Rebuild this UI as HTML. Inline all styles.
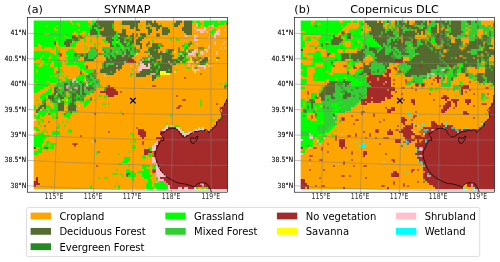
<!DOCTYPE html>
<html><head><meta charset="utf-8"><title>Land cover maps</title>
<style>
html,body{margin:0;padding:0;background:#fff;}
svg{display:block;}
text{font-family:"DejaVu Sans","Liberation Sans",sans-serif;fill:#000;}
.tk text{font-size:6.25px;fill:#000;stroke:#000;stroke-width:0.1px;}
.ti text{font-size:11.2px;}
.lg text{font-size:10px;}
</style></head><body>
<svg width="500" height="262" viewBox="0 0 500 262">
<defs>
<filter id="bl" x="-5%" y="-5%" width="110%" height="110%"><feGaussianBlur stdDeviation="0.42"/></filter>
<clipPath id="clipa"><rect x="33.7" y="20.6" width="193.8" height="168.65"/></clipPath>
<clipPath id="clipb"><rect x="300.7" y="20.6" width="193.8" height="168.65"/></clipPath>
<clipPath id="framea"><rect x="27.5" y="17.5" width="200" height="174.7"/></clipPath>
<clipPath id="frameb"><rect x="294.5" y="17.5" width="200" height="174.7"/></clipPath>
</defs>
<rect width="500" height="262" fill="#fff"/>
<g class="tk">
<text transform="translate(26.3,35.30) scale(1,1.13)" text-anchor="end">41°N</text>
<text transform="translate(26.3,60.73) scale(1,1.13)" text-anchor="end">40.5°N</text>
<text transform="translate(26.3,86.16) scale(1,1.13)" text-anchor="end">40°N</text>
<text transform="translate(26.3,111.59) scale(1,1.13)" text-anchor="end">39.5°N</text>
<text transform="translate(26.3,137.02) scale(1,1.13)" text-anchor="end">39°N</text>
<text transform="translate(26.3,162.45) scale(1,1.13)" text-anchor="end">38.5°N</text>
<text transform="translate(26.3,187.88) scale(1,1.13)" text-anchor="end">38°N</text>
<text style="font-size:6.15px;fill:#2a2a2a;stroke:none" transform="translate(53.95,198.7) scale(1,1.32)" text-anchor="middle">115°E</text>
<text style="font-size:6.15px;fill:#2a2a2a;stroke:none" transform="translate(93.15,198.7) scale(1,1.32)" text-anchor="middle">116°E</text>
<text style="font-size:6.15px;fill:#2a2a2a;stroke:none" transform="translate(132.15,198.7) scale(1,1.32)" text-anchor="middle">117°E</text>
<text style="font-size:6.15px;fill:#2a2a2a;stroke:none" transform="translate(171.15,198.7) scale(1,1.32)" text-anchor="middle">118°E</text>
<text style="font-size:6.15px;fill:#2a2a2a;stroke:none" transform="translate(210.75,198.7) scale(1,1.32)" text-anchor="middle">119°E</text>
<text transform="translate(293.3,35.30) scale(1,1.13)" text-anchor="end">41°N</text>
<text transform="translate(293.3,60.73) scale(1,1.13)" text-anchor="end">40.5°N</text>
<text transform="translate(293.3,86.16) scale(1,1.13)" text-anchor="end">40°N</text>
<text transform="translate(293.3,111.59) scale(1,1.13)" text-anchor="end">39.5°N</text>
<text transform="translate(293.3,137.02) scale(1,1.13)" text-anchor="end">39°N</text>
<text transform="translate(293.3,162.45) scale(1,1.13)" text-anchor="end">38.5°N</text>
<text transform="translate(293.3,187.88) scale(1,1.13)" text-anchor="end">38°N</text>
<text style="font-size:6.15px;fill:#2a2a2a;stroke:none" transform="translate(320.95,198.7) scale(1,1.32)" text-anchor="middle">115°E</text>
<text style="font-size:6.15px;fill:#2a2a2a;stroke:none" transform="translate(360.15,198.7) scale(1,1.32)" text-anchor="middle">116°E</text>
<text style="font-size:6.15px;fill:#2a2a2a;stroke:none" transform="translate(399.15,198.7) scale(1,1.32)" text-anchor="middle">117°E</text>
<text style="font-size:6.15px;fill:#2a2a2a;stroke:none" transform="translate(438.15,198.7) scale(1,1.32)" text-anchor="middle">118°E</text>
<text style="font-size:6.15px;fill:#2a2a2a;stroke:none" transform="translate(477.75,198.7) scale(1,1.32)" text-anchor="middle">119°E</text>
</g>
<rect x="27.5" y="17.5" width="200" height="174.7" fill="#fff"/>
<g clip-path="url(#clipa)"><g opacity="0.999">
<rect x="30" y="17" width="202" height="176" fill="#ffa500"/>
<g filter="url(#bl)">
<path fill="#a52a2a" d="M128 59h6v2h-6zM128 61h8v2h-8zM108 85h2v2h-2zM104 87h10v2h-10zM104 89h12v2h-12zM100 91h18v2h-18zM106 93h12v2h-12zM108 95h6v2h-6zM226 99h2v2h-2zM226 101h2v2h-2zM224 103h4v2h-4zM224 105h4v2h-4zM220 107h8v2h-8zM222 109h6v2h-6zM222 111h6v2h-6zM222 113h6v2h-6zM222 115h6v2h-6zM220 117h8v2h-8zM218 119h10v2h-10zM216 121h12v2h-12zM216 123h12v2h-12zM214 125h14v2h-14zM168 127h8v2h-8zM212 127h16v2h-16zM138 129h6v2h-6zM166 129h12v2h-12zM204 129h2v2h-2zM210 129h18v2h-18zM138 131h8v2h-8zM160 131h20v2h-20zM194 131h34v2h-34zM138 133h8v2h-8zM160 133h22v2h-22zM190 133h38v2h-38zM140 135h6v2h-6zM162 135h22v2h-22zM186 135h42v2h-42zM142 137h2v2h-2zM156 137h72v2h-72zM158 139h70v2h-70zM158 141h70v2h-70zM158 143h70v2h-70zM156 145h72v2h-72zM31 147h5v2h-5zM156 147h72v2h-72zM144 149h6v2h-6zM156 149h72v2h-72zM144 151h84v2h-84zM144 153h4v2h-4zM152 153h76v2h-76zM152 155h76v2h-76zM156 157h72v2h-72zM156 159h72v2h-72zM156 161h72v2h-72zM158 163h70v2h-70zM158 165h70v2h-70zM160 167h68v2h-68zM160 169h68v2h-68zM162 171h66v2h-66zM164 173h64v2h-64zM166 175h62v2h-62zM36 177h2v2h-2zM160 177h68v2h-68zM36 179h2v2h-2zM164 179h64v2h-64zM31 181h7v2h-7zM164 181h64v2h-64zM31 183h9v2h-9zM166 183h62v2h-62zM31 185h5v2h-5zM170 185h58v2h-58zM170 187h8v5h-8zM182 187h2v5h-2zM188 187h6v5h-6zM208 187h20v5h-20z"/>
<path fill="#556b2f" d="M96 18h18v5h-18zM122 18h18v5h-18zM146 18h6v5h-6zM154 18h2v5h-2zM176 18h6v5h-6zM184 18h8v5h-8zM94 23h20v2h-20zM122 23h16v2h-16zM146 23h12v2h-12zM174 23h6v2h-6zM184 23h8v2h-8zM92 25h22v2h-22zM130 25h8v2h-8zM148 25h14v2h-14zM174 25h4v2h-4zM184 25h8v2h-8zM92 27h2v2h-2zM98 27h16v2h-16zM130 27h4v2h-4zM136 27h2v2h-2zM146 27h4v2h-4zM156 27h4v2h-4zM162 27h6v2h-6zM182 27h10v2h-10zM90 29h6v2h-6zM100 29h14v2h-14zM122 29h4v2h-4zM136 29h4v2h-4zM148 29h4v2h-4zM156 29h2v2h-2zM162 29h8v2h-8zM182 29h10v2h-10zM90 31h8v2h-8zM100 31h16v2h-16zM122 31h4v2h-4zM148 31h4v2h-4zM162 31h8v2h-8zM184 31h8v2h-8zM90 33h8v2h-8zM100 33h16v2h-16zM118 33h8v2h-8zM132 33h2v2h-2zM140 33h6v2h-6zM148 33h2v2h-2zM162 33h6v2h-6zM186 33h6v2h-6zM72 35h4v2h-4zM102 35h12v2h-12zM118 35h10v2h-10zM130 35h4v2h-4zM140 35h6v2h-6zM72 37h8v2h-8zM106 37h6v2h-6zM118 37h16v2h-16zM138 37h6v2h-6zM66 39h14v2h-14zM106 39h8v2h-8zM120 39h6v2h-6zM130 39h4v2h-4zM136 39h6v2h-6zM64 41h8v2h-8zM108 41h4v2h-4zM120 41h6v2h-6zM128 41h6v2h-6zM136 41h4v2h-4zM64 43h8v2h-8zM110 43h2v2h-2zM122 43h20v2h-20zM152 43h8v2h-8zM66 45h4v2h-4zM110 45h4v2h-4zM124 45h4v2h-4zM130 45h4v2h-4zM140 45h2v2h-2zM152 45h10v2h-10zM110 47h4v2h-4zM140 47h2v2h-2zM148 47h12v2h-12zM126 49h2v2h-2zM136 49h2v2h-2zM148 49h10v2h-10zM166 49h8v2h-8zM186 49h2v2h-2zM190 49h2v2h-2zM198 49h6v2h-6zM126 51h4v2h-4zM136 51h2v2h-2zM148 51h10v2h-10zM160 51h12v2h-12zM180 51h2v2h-2zM184 51h4v2h-4zM78 53h2v2h-2zM84 53h4v2h-4zM124 53h6v2h-6zM150 53h22v2h-22zM182 53h2v2h-2zM76 55h4v2h-4zM84 55h4v2h-4zM110 55h2v2h-2zM116 55h18v2h-18zM150 55h24v2h-24zM180 55h4v2h-4zM186 55h2v2h-2zM84 57h4v2h-4zM106 57h2v2h-2zM110 57h4v2h-4zM116 57h16v2h-16zM146 57h26v2h-26zM178 57h8v2h-8zM194 57h4v2h-4zM202 57h6v2h-6zM84 59h10v2h-10zM106 59h22v2h-22zM142 59h44v2h-44zM192 59h2v2h-2zM198 59h10v2h-10zM104 61h24v2h-24zM142 61h38v2h-38zM198 61h10v2h-10zM102 63h4v2h-4zM114 63h10v2h-10zM144 63h4v2h-4zM150 63h4v2h-4zM156 63h20v2h-20zM198 63h8v2h-8zM102 65h4v2h-4zM108 65h14v2h-14zM146 65h2v2h-2zM150 65h22v2h-22zM102 67h20v2h-20zM150 67h22v2h-22zM100 69h16v2h-16zM142 69h30v2h-30zM92 71h2v2h-2zM100 71h16v2h-16zM140 71h20v2h-20zM166 71h6v2h-6zM92 73h2v2h-2zM106 73h8v2h-8zM136 73h24v2h-24zM94 75h2v2h-2zM136 75h10v2h-10zM152 75h8v2h-8zM86 77h2v2h-2zM152 77h4v2h-4zM86 79h4v2h-4zM152 79h2v2h-2zM74 81h2v2h-2zM88 81h2v2h-2zM64 83h4v2h-4zM72 83h4v2h-4zM82 83h4v2h-4zM64 85h6v2h-6zM72 85h2v2h-2zM76 85h4v2h-4zM82 85h4v2h-4zM88 85h4v2h-4zM54 87h4v2h-4zM64 87h4v2h-4zM70 87h2v2h-2zM74 87h6v2h-6zM82 87h12v2h-12zM54 89h4v2h-4zM64 89h8v2h-8zM76 89h4v2h-4zM82 89h2v2h-2zM88 89h6v2h-6zM54 91h4v2h-4zM64 91h2v2h-2zM68 91h2v2h-2zM72 91h8v2h-8zM82 91h2v2h-2zM92 91h2v2h-2zM52 93h8v2h-8zM64 93h2v2h-2zM70 93h10v2h-10zM82 93h4v2h-4zM48 95h16v2h-16zM70 95h8v2h-8zM82 95h4v2h-4zM48 97h8v2h-8zM58 97h6v2h-6zM70 97h8v2h-8zM80 97h2v2h-2zM50 99h8v2h-8zM60 99h2v2h-2zM70 99h8v2h-8zM80 99h2v2h-2zM44 101h2v2h-2zM52 101h2v2h-2zM56 101h2v2h-2zM60 101h4v2h-4zM70 101h6v2h-6zM42 103h4v2h-4zM56 103h8v2h-8zM68 103h8v2h-8zM40 105h6v2h-6zM58 105h6v2h-6zM68 105h8v2h-8zM38 107h8v2h-8zM58 107h6v2h-6zM68 107h10v2h-10zM36 109h4v2h-4zM58 109h6v2h-6zM68 109h10v2h-10zM36 111h2v2h-2zM70 111h2v2h-2z"/>
<path fill="#00ff00" d="M31 18h39v5h-39zM72 18h16v5h-16zM92 18h4v5h-4zM192 18h2v5h-2zM196 18h4v5h-4zM204 18h14v5h-14zM220 18h8v5h-8zM31 23h59v2h-59zM92 23h2v2h-2zM198 23h4v2h-4zM204 23h20v2h-20zM31 25h61v2h-61zM198 25h2v2h-2zM204 25h4v2h-4zM214 25h4v2h-4zM31 27h61v2h-61zM94 27h4v2h-4zM31 29h59v2h-59zM96 29h4v2h-4zM212 29h4v2h-4zM31 31h43v2h-43zM76 31h6v2h-6zM86 31h4v2h-4zM98 31h2v2h-2zM116 31h2v2h-2zM210 31h6v2h-6zM31 33h41v2h-41zM78 33h2v2h-2zM86 33h2v2h-2zM98 33h2v2h-2zM116 33h2v2h-2zM212 33h2v2h-2zM31 35h41v2h-41zM114 35h4v2h-4zM31 37h41v2h-41zM112 37h6v2h-6zM31 39h35v2h-35zM114 39h6v2h-6zM126 39h4v2h-4zM31 41h25v2h-25zM58 41h6v2h-6zM72 41h6v2h-6zM112 41h8v2h-8zM126 41h2v2h-2zM31 43h7v2h-7zM40 43h16v2h-16zM58 43h6v2h-6zM72 43h4v2h-4zM112 43h10v2h-10zM184 43h4v2h-4zM31 45h7v2h-7zM42 45h14v2h-14zM60 45h6v2h-6zM70 45h6v2h-6zM114 45h10v2h-10zM128 45h2v2h-2zM184 45h4v2h-4zM42 47h2v2h-2zM52 47h2v2h-2zM56 47h2v2h-2zM184 47h4v2h-4zM56 49h2v2h-2zM68 49h6v2h-6zM31 51h19v2h-19zM56 51h4v2h-4zM66 51h10v2h-10zM182 51h2v2h-2zM31 53h23v2h-23zM56 53h2v2h-2zM66 53h12v2h-12zM180 53h2v2h-2zM184 53h4v2h-4zM31 55h29v2h-29zM68 55h8v2h-8zM184 55h2v2h-2zM31 57h9v2h-9zM42 57h16v2h-16zM66 57h8v2h-8zM186 57h2v2h-2zM31 59h5v2h-5zM42 59h18v2h-18zM68 59h6v2h-6zM186 59h2v2h-2zM44 61h8v2h-8zM54 61h8v2h-8zM68 61h18v2h-18zM182 61h4v2h-4zM31 63h9v2h-9zM44 63h6v2h-6zM54 63h8v2h-8zM66 63h18v2h-18zM154 63h2v2h-2zM31 65h7v2h-7zM42 65h8v2h-8zM54 65h8v2h-8zM78 65h8v2h-8zM31 67h23v2h-23zM58 67h2v2h-2zM80 67h6v2h-6zM31 69h23v2h-23zM58 69h4v2h-4zM80 69h2v2h-2zM84 69h10v2h-10zM31 71h23v2h-23zM60 71h2v2h-2zM86 71h6v2h-6zM31 73h29v2h-29zM82 73h2v2h-2zM88 73h2v2h-2zM31 75h27v2h-27zM78 75h8v2h-8zM31 77h27v2h-27zM76 77h10v2h-10zM31 79h31v2h-31zM80 79h4v2h-4zM31 81h29v2h-29zM82 81h2v2h-2zM36 83h14v2h-14zM31 85h17v2h-17zM31 87h13v2h-13zM50 87h2v2h-2zM31 89h9v2h-9zM48 89h4v2h-4zM31 91h7v2h-7zM46 91h6v2h-6zM42 93h10v2h-10zM40 95h8v2h-8zM64 95h2v2h-2zM78 95h2v2h-2zM40 97h8v2h-8zM56 97h2v2h-2zM68 97h2v2h-2zM78 97h2v2h-2zM82 97h2v2h-2zM42 99h2v2h-2zM58 99h2v2h-2zM62 99h8v2h-8zM78 99h2v2h-2zM82 99h2v2h-2zM86 99h4v2h-4zM58 101h2v2h-2zM68 101h2v2h-2zM84 101h6v2h-6zM54 103h2v2h-2zM84 103h4v2h-4zM31 105h5v2h-5zM46 105h4v2h-4zM54 105h4v2h-4zM84 105h2v2h-2zM31 107h5v2h-5zM46 107h6v2h-6zM54 107h4v2h-4zM40 109h18v2h-18zM38 111h20v2h-20zM68 111h2v2h-2zM36 113h10v2h-10zM50 113h8v2h-8zM64 113h8v2h-8zM31 115h9v2h-9zM42 115h2v2h-2zM54 115h4v2h-4zM64 115h6v2h-6zM36 117h4v2h-4zM68 117h2v2h-2zM31 127h7v2h-7zM36 129h4v2h-4zM42 131h2v2h-2zM52 131h8v2h-8zM38 133h6v2h-6zM52 133h8v2h-8zM31 135h19v2h-19zM31 137h15v2h-15zM31 139h13v2h-13zM31 141h13v2h-13zM46 141h4v2h-4zM31 143h11v2h-11zM46 143h10v2h-10zM31 145h11v2h-11zM44 145h10v2h-10zM40 147h14v2h-14zM38 149h4v2h-4zM31 151h11v2h-11zM31 153h7v2h-7zM124 157h6v2h-6zM124 159h6v2h-6zM122 161h6v2h-6zM142 165h8v2h-8zM142 167h4v2h-4zM126 169h4v2h-4zM144 169h6v2h-6zM126 171h8v2h-8zM138 171h12v2h-12zM126 173h10v2h-10zM142 173h8v2h-8zM126 175h10v2h-10zM142 175h10v2h-10zM132 177h2v2h-2zM144 177h6v2h-6zM132 179h2v2h-2zM148 179h4v2h-4zM148 181h4v2h-4zM156 181h8v2h-8zM146 183h6v2h-6zM154 183h12v2h-12zM90 185h2v2h-2zM118 185h2v2h-2zM146 185h6v2h-6zM154 185h14v2h-14zM90 187h2v5h-2zM118 187h2v5h-2zM146 187h8v5h-8zM156 187h12v5h-12zM196 187h2v5h-2zM202 187h2v5h-2zM206 187h2v5h-2z"/>
<path fill="#32cd32" d="M92 47h2v2h-2zM102 47h8v2h-8zM114 47h22v2h-22zM90 49h6v2h-6zM104 49h22v2h-22zM128 49h8v2h-8zM88 51h10v2h-10zM104 51h22v2h-22zM130 51h6v2h-6zM88 53h10v2h-10zM102 53h22v2h-22zM130 53h6v2h-6zM88 55h10v2h-10zM104 55h6v2h-6zM112 55h4v2h-4zM74 57h6v2h-6zM88 57h8v2h-8zM108 57h2v2h-2zM114 57h2v2h-2zM74 59h4v2h-4zM106 63h8v2h-8zM106 65h2v2h-2zM90 73h2v2h-2zM86 75h8v2h-8zM74 77h2v2h-2zM88 77h8v2h-8zM66 79h14v2h-14zM90 79h10v2h-10zM60 81h14v2h-14zM76 81h6v2h-6zM84 81h4v2h-4zM90 81h10v2h-10zM56 83h8v2h-8zM68 83h4v2h-4zM76 83h6v2h-6zM86 83h14v2h-14zM56 85h8v2h-8zM70 85h2v2h-2zM74 85h2v2h-2zM80 85h2v2h-2zM86 85h2v2h-2zM92 85h4v2h-4zM98 85h2v2h-2zM58 87h6v2h-6zM72 87h2v2h-2zM80 87h2v2h-2zM94 87h2v2h-2zM58 89h6v2h-6zM72 89h4v2h-4zM80 89h2v2h-2zM84 89h4v2h-4zM58 91h6v2h-6zM66 91h2v2h-2zM70 91h2v2h-2zM80 91h2v2h-2zM84 91h8v2h-8zM60 93h4v2h-4zM66 93h4v2h-4zM80 93h2v2h-2zM86 93h4v2h-4zM66 95h2v2h-2zM80 95h2v2h-2zM44 99h2v2h-2zM54 101h2v2h-2z"/>
<path fill="#ffc0cb" d="M204 27h2v2h-2zM196 29h10v2h-10zM218 29h2v2h-2zM200 31h4v2h-4zM216 31h4v2h-4zM214 33h6v2h-6zM194 35h4v2h-4zM214 35h2v2h-2zM194 37h2v2h-2zM214 37h2v2h-2zM194 39h4v2h-4zM188 49h2v2h-2zM194 49h4v2h-4zM188 51h10v2h-10zM188 53h8v2h-8zM188 55h6v2h-6zM190 57h2v2h-2zM140 61h2v2h-2zM140 63h4v2h-4zM148 63h2v2h-2zM140 65h6v2h-6zM148 65h2v2h-2zM198 65h8v2h-8zM138 67h12v2h-12zM194 67h4v2h-4zM204 67h2v2h-2zM138 69h4v2h-4zM68 87h2v2h-2zM31 119h5v2h-5zM166 125h4v2h-4zM164 127h4v2h-4zM176 127h4v2h-4zM198 127h6v2h-6zM162 129h4v2h-4zM178 129h4v2h-4zM194 129h10v2h-10zM31 131h5v2h-5zM180 131h6v2h-6zM188 131h6v2h-6zM182 133h8v2h-8zM184 135h2v2h-2zM156 141h2v2h-2zM154 143h4v2h-4zM152 145h4v2h-4zM152 147h4v2h-4zM152 149h4v2h-4zM152 157h4v2h-4zM152 159h4v2h-4zM152 161h4v2h-4zM156 163h2v2h-2zM156 165h2v2h-2zM156 167h4v2h-4zM156 169h4v2h-4zM156 171h6v2h-6zM156 173h8v2h-8zM156 175h10v2h-10zM158 177h2v2h-2zM158 179h6v2h-6zM168 185h2v2h-2zM168 187h2v5h-2zM178 187h4v5h-4zM184 187h4v5h-4zM194 187h2v5h-2z"/>
<path fill="#ffff00" d="M160 71h6v2h-6zM160 73h10v2h-10z"/>
<path fill="#ffa500" d="M72.2 23.2h1.6v1.6h-1.6zM76.3 23.3h1.7v1.4h-1.7zM78 23.3h1.7v1.7h-1.7zM78.3 25h1.4v1.7h-1.4zM148.3 23.3h1.4v1.7h-1.4zM148.3 25h1.7v1.7h-1.7zM150 25.3h1.7v1.4h-1.7zM212.2 23.2h1.6v1.6h-1.6zM46.2 25.2h1.6v1.6h-1.6zM56.2 25.2h1.6v1.6h-1.6zM88.2 25.2h1.6v1.6h-1.6zM54.3 27.3h1.4v1.7h-1.4zM54.3 29h1.7v1.7h-1.7zM56 29.3h1.7v1.4h-1.7zM102.3 27.3h1.4v1.7h-1.4zM102 29h1.7v1.7h-1.7zM100.3 29.3h1.7v1.4h-1.7zM78.2 29.2h1.6v1.6h-1.6zM214.2 31.2h1.6v1.6h-1.6zM44.3 33.3h1.7v1.4h-1.7zM46 33.3h2v1.4h-2zM48 33.3h1.7v1.4h-1.7zM64.2 35.2h1.6v1.6h-1.6zM54.2 37.2h1.6v1.6h-1.6zM66.2 37.2h1.6v1.6h-1.6zM126.27 37.27h1.73v1.46h-1.73zM128 37.27h1.73v1.46h-1.73zM72.2 41.2h1.6v1.6h-1.6zM70.2 43.2h1.6v1.6h-1.6zM110.27 47.27h1.73v1.46h-1.73zM112 47.27h1.73v1.46h-1.73zM122.2 47.2h1.6v1.6h-1.6zM198.3 49.3h1.7v1.4h-1.7zM200 49.3h2v1.4h-2zM202 49.3h1.7v1.4h-1.7zM116.2 51.2h1.6v1.6h-1.6zM196.2 51.2h1.6v1.6h-1.6zM194.2 53.2h1.6v1.6h-1.6zM42.2 55.2h1.6v1.6h-1.6zM50.3 55.3h1.4v1.7h-1.4zM50 57h1.7v1.7h-1.7zM48.3 57.3h1.7v1.7h-1.7zM48.3 59h1.4v1.7h-1.4zM188.3 55.3h1.7v1.4h-1.7zM190 55.3h2v1.7h-2zM190.3 57h1.4v1.7h-1.4zM192 55.3h1.7v1.4h-1.7zM160.3 57.3h1.4v1.7h-1.4zM160 59h1.7v1.7h-1.7zM158 59.3h2v1.4h-2zM156.3 59.3h1.7v1.4h-1.7zM186.2 57.2h1.6v1.6h-1.6zM194.27 57.27h1.73v1.46h-1.73zM196 57.27h1.73v1.46h-1.73zM192.2 59.2h1.6v1.6h-1.6zM198.3 59.3h1.4v1.7h-1.4zM198.3 61h1.4v2h-1.4zM198.3 63h1.4v1.7h-1.4zM74.2 61.2h1.6v1.6h-1.6zM46.2 63.2h1.6v1.6h-1.6zM154.2 63.2h1.6v1.6h-1.6zM36.27 69.27h1.46v1.73h-1.46zM36.27 71h1.46v1.73h-1.46zM60.2 71.2h1.6v1.6h-1.6zM92.2 71.2h1.6v1.6h-1.6zM58.2 73.2h1.6v1.6h-1.6zM50.2 75.2h1.6v1.6h-1.6zM54.27 75.27h1.73v1.46h-1.73zM56 75.27h1.73v1.46h-1.73zM84.2 77.2h1.6v1.6h-1.6zM36.2 79.2h1.6v1.6h-1.6zM46.27 81.27h1.73v1.46h-1.73zM48 81.27h1.73v1.46h-1.73zM56.2 81.2h1.6v1.6h-1.6zM60.2 81.2h1.6v1.6h-1.6zM84.27 81.27h1.73v1.46h-1.73zM86 81.27h1.73v1.46h-1.73zM58.27 87.27h1.73v1.46h-1.73zM60 87.27h1.73v1.46h-1.73zM66.3 91.3h1.4v1.7h-1.4zM66.3 93h1.7v2h-1.7zM66.3 95h1.4v1.7h-1.4zM68 93.3h1.7v1.4h-1.7zM50.2 93.2h1.6v1.6h-1.6zM46.27 95.27h1.46v1.73h-1.46zM46.27 97h1.46v1.73h-1.46zM62.27 99.27h1.73v1.46h-1.73zM64 99.27h1.73v1.46h-1.73zM56.2 103.2h1.6v1.6h-1.6zM46.3 109.3h1.7v1.4h-1.7zM48 109.3h1.7v1.7h-1.7zM48.3 111h1.4v1.7h-1.4zM52.3 113.3h1.7v1.4h-1.7zM54 113.3h1.7v1.7h-1.7zM54.3 115h1.4v1.7h-1.4zM36.2 115.2h1.6v1.6h-1.6zM48.3 143.3h1.4v1.7h-1.4zM48.3 145h1.7v1.7h-1.7zM50 145.3h1.7v1.4h-1.7zM152.3 151.3h1.4v1.7h-1.4zM152.3 153h1.4v2h-1.4zM152.3 155h1.4v1.7h-1.4zM158.2 181.2h1.6v1.6h-1.6z"/>
<path fill="#a52a2a" d="M226.2 23.2h1.6v1.6h-1.6zM54.27 41.27h1.46v1.73h-1.46zM54.27 43h1.46v1.73h-1.46zM58.3 53.3h1.7v1.4h-1.7zM60 53.3h1.7v1.7h-1.7zM60.3 55h1.4v1.7h-1.4zM86.27 65.27h1.46v1.73h-1.46zM86.27 67h1.46v1.73h-1.46zM118.2 69.2h1.6v1.6h-1.6zM80.27 71.27h1.46v1.73h-1.46zM80.27 73h1.46v1.73h-1.46zM184.2 77.2h1.6v1.6h-1.6zM152.27 85.27h1.73v1.46h-1.73zM154 85.27h1.73v1.46h-1.73zM120.2 91.2h1.6v1.6h-1.6zM176.2 95.2h1.6v1.6h-1.6zM182.27 99.27h1.73v1.46h-1.73zM184 99.27h1.73v1.46h-1.73zM216.2 103.2h1.6v1.6h-1.6zM178.3 105.3h1.7v1.7h-1.7zM178 107h1.7v1.7h-1.7zM180 105.3h1.7v1.4h-1.7zM176.3 107.3h1.7v1.4h-1.7zM94.2 113.2h1.6v1.6h-1.6zM122.2 113.2h1.6v1.6h-1.6zM136.2 127.2h1.6v1.6h-1.6zM108.2 131.2h1.6v1.6h-1.6zM80.2 135.2h1.6v1.6h-1.6zM142.27 141.27h1.46v1.73h-1.46zM142.27 143h1.46v1.73h-1.46zM72.3 143.3h1.7v1.4h-1.7zM74 143.3h2v1.7h-2zM74.3 145h1.4v1.7h-1.4zM76 143.3h1.7v1.4h-1.7zM44.27 147.27h1.73v1.46h-1.73zM46 147.27h1.73v1.46h-1.73zM98.2 151.2h1.6v1.6h-1.6zM96.2 165.2h1.6v1.6h-1.6zM152.3 169.3h1.7v1.7h-1.7zM152.3 171h1.7v1.7h-1.7zM154 169.3h1.7v1.7h-1.7zM154 171h1.7v1.7h-1.7zM126.3 173.3h1.7v1.7h-1.7zM126.3 175h1.4v1.7h-1.4zM128 173.3h1.7v1.4h-1.7z"/>
<path fill="#556b2f" d="M136.27 33.27h1.46v1.73h-1.46zM136.27 35h1.46v1.73h-1.46zM156.3 33.3h1.7v1.7h-1.7zM156.3 35h1.7v1.7h-1.7zM158 33.3h1.7v1.7h-1.7zM158 35h1.7v1.7h-1.7zM78.3 35.3h1.7v1.4h-1.7zM80 35.3h1.7v1.7h-1.7zM80.3 37h1.7v1.7h-1.7zM82 37.3h1.7v1.4h-1.7zM116.2 39.2h1.6v1.6h-1.6zM126.3 39.3h1.7v1.7h-1.7zM126.3 41h1.4v1.7h-1.4zM128 39.3h1.7v1.4h-1.7zM148.3 41.3h1.4v1.7h-1.4zM148 43h1.7v1.7h-1.7zM146.3 43.3h1.7v1.7h-1.7zM146.3 45h1.4v1.7h-1.4zM190.3 41.3h1.4v1.7h-1.4zM190 43h1.7v1.7h-1.7zM188.3 43.3h1.7v1.7h-1.7zM188.3 45h1.4v1.7h-1.4zM116.3 43.3h1.4v1.7h-1.4zM116.3 45h1.7v1.7h-1.7zM118 45.3h1.7v1.4h-1.7zM160.2 43.2h1.6v1.6h-1.6zM128.2 45.2h1.6v1.6h-1.6zM162.2 45.2h1.6v1.6h-1.6zM182.2 45.2h1.6v1.6h-1.6zM90.2 47.2h1.6v1.6h-1.6zM94.2 47.2h1.6v1.6h-1.6zM130.27 47.27h1.46v1.73h-1.46zM130.27 49h1.46v1.73h-1.46zM134.3 47.3h1.4v1.7h-1.4zM134.3 49h1.4v2h-1.4zM134.3 51h1.4v1.7h-1.4zM178.3 47.3h1.4v1.7h-1.4zM178.3 49h1.4v2h-1.4zM178.3 51h1.4v1.7h-1.4zM186.2 47.2h1.6v1.6h-1.6zM198.3 47.3h1.7v1.4h-1.7zM200 47.3h2v1.4h-2zM202 47.3h1.7v1.4h-1.7zM96.2 49.2h1.6v1.6h-1.6zM102.2 49.2h1.6v1.6h-1.6zM110.27 49.27h1.46v1.73h-1.46zM110.27 51h1.46v1.73h-1.46zM120.2 49.2h1.6v1.6h-1.6zM138.27 49.27h1.46v1.73h-1.46zM138.27 51h1.46v1.73h-1.46zM184.2 49.2h1.6v1.6h-1.6zM188.3 49.3h1.4v1.7h-1.4zM188.3 51h1.7v1.7h-1.7zM190 51.3h1.7v1.4h-1.7zM192.2 49.2h1.6v1.6h-1.6zM104.2 51.2h1.6v1.6h-1.6zM122.27 51.27h1.46v1.73h-1.46zM122.27 53h1.46v1.73h-1.46zM144.27 51.27h1.73v1.46h-1.73zM146 51.27h1.73v1.46h-1.73zM182.2 51.2h1.6v1.6h-1.6zM74.3 53.3h1.7v1.7h-1.7zM74.3 55h1.4v1.7h-1.4zM76 53.3h1.7v1.4h-1.7zM80.3 53.3h1.7v1.7h-1.7zM80.3 55h1.7v1.7h-1.7zM82 53.3h1.7v1.7h-1.7zM82 55h1.7v1.7h-1.7zM98.27 53.27h1.73v1.46h-1.73zM100 53.27h1.73v1.46h-1.73zM108.2 53.2h1.6v1.6h-1.6zM114.2 53.2h1.6v1.6h-1.6zM184.3 53.3h1.7v1.7h-1.7zM184.3 55h1.4v1.7h-1.4zM186 53.3h1.7v1.4h-1.7zM196.27 53.27h1.46v1.73h-1.46zM196.27 55h1.46v1.73h-1.46zM96.2 55.2h1.6v1.6h-1.6zM104.2 55.2h1.6v1.6h-1.6zM148.2 55.2h1.6v1.6h-1.6zM94.2 57.2h1.6v1.6h-1.6zM142.27 57.27h1.73v1.46h-1.73zM144 57.27h1.73v1.46h-1.73zM192.2 57.2h1.6v1.6h-1.6zM198.27 57.27h1.73v1.46h-1.73zM200 57.27h1.73v1.46h-1.73zM216.27 57.27h1.73v1.46h-1.73zM218 57.27h1.73v1.46h-1.73zM140.2 59.2h1.6v1.6h-1.6zM186.2 59.2h1.6v1.6h-1.6zM194.3 59.3h1.7v1.7h-1.7zM194.3 61h1.4v1.7h-1.4zM196 59.3h1.7v1.4h-1.7zM182.27 61.27h1.73v1.46h-1.73zM184 61.27h1.73v1.46h-1.73zM194.27 67.27h1.73v1.46h-1.73zM196 67.27h1.73v1.46h-1.73zM94.3 69.3h1.4v1.7h-1.4zM94.3 71h1.4v2h-1.4zM94.3 73h1.4v1.7h-1.4zM56.27 71.27h1.73v1.46h-1.73zM58 71.27h1.73v1.46h-1.73zM90.2 73.2h1.6v1.6h-1.6zM200.2 73.2h1.6v1.6h-1.6zM86.3 75.3h1.7v1.4h-1.7zM88 75.3h1.7v1.7h-1.7zM88.3 77h1.4v1.7h-1.4zM92.2 75.2h1.6v1.6h-1.6zM94.2 77.2h1.6v1.6h-1.6zM90.2 79.2h1.6v1.6h-1.6zM70.3 81.3h1.4v1.7h-1.4zM70.3 83h1.4v2h-1.4zM70.3 85h1.4v1.7h-1.4zM80.2 81.2h1.6v1.6h-1.6zM96.2 81.2h1.6v1.6h-1.6zM76.2 83.2h1.6v1.6h-1.6zM92.2 83.2h1.6v1.6h-1.6zM74.2 85.2h1.6v1.6h-1.6zM224.3 85.3h1.7v1.7h-1.7zM224.3 87h1.4v1.7h-1.4zM226 85.3h1.7v1.4h-1.7zM68.2 87.2h1.6v1.6h-1.6zM72.3 87.3h1.4v1.7h-1.4zM72.3 89h1.7v1.7h-1.7zM74 89.3h1.7v1.4h-1.7zM58.2 89.2h1.6v1.6h-1.6zM94.2 89.2h1.6v1.6h-1.6zM62.27 91.27h1.46v1.73h-1.46zM62.27 93h1.46v1.73h-1.46zM70.2 91.2h1.6v1.6h-1.6zM64.2 95.2h1.6v1.6h-1.6zM80.2 95.2h1.6v1.6h-1.6zM56.2 97.2h1.6v1.6h-1.6zM68.2 97.2h1.6v1.6h-1.6zM78.27 97.27h1.46v1.73h-1.46zM78.27 99h1.46v1.73h-1.46zM82.27 97.27h1.46v1.73h-1.46zM82.27 99h1.46v1.73h-1.46zM90.27 97.27h1.46v1.73h-1.46zM90.27 99h1.46v1.73h-1.46zM44.2 99.2h1.6v1.6h-1.6zM42.2 101.2h1.6v1.6h-1.6zM54.2 101.2h1.6v1.6h-1.6zM66.2 111.2h1.6v1.6h-1.6zM48.2 113.2h1.6v1.6h-1.6zM64.2 113.2h1.6v1.6h-1.6zM56.2 117.2h1.6v1.6h-1.6zM48.2 121.2h1.6v1.6h-1.6zM44.2 125.2h1.6v1.6h-1.6zM94.27 139.27h1.46v1.73h-1.46zM94.27 141h1.46v1.73h-1.46z"/>
<path fill="#00ff00" d="M96.2 23.2h1.6v1.6h-1.6zM112.3 23.3h1.4v1.7h-1.4zM112.3 25h1.4v2h-1.4zM112.3 27h1.4v1.7h-1.4zM120.2 23.2h1.6v1.6h-1.6zM160.2 23.2h1.6v1.6h-1.6zM172.2 23.2h1.6v1.6h-1.6zM98.2 25.2h1.6v1.6h-1.6zM140.2 25.2h1.6v1.6h-1.6zM146.2 25.2h1.6v1.6h-1.6zM122.2 27.2h1.6v1.6h-1.6zM150.2 27.2h1.6v1.6h-1.6zM168.2 27.2h1.6v1.6h-1.6zM84.3 35.3h1.4v1.7h-1.4zM84.3 37h1.4v2h-1.4zM84.3 39h1.4v2h-1.4zM84.3 41h1.4v1.7h-1.4zM90.2 35.2h1.6v1.6h-1.6zM96.27 35.27h1.46v1.73h-1.46zM96.27 37h1.46v1.73h-1.46zM128.2 35.2h1.6v1.6h-1.6zM140.2 35.2h1.6v1.6h-1.6zM146.2 35.2h1.6v1.6h-1.6zM78.27 37.27h1.46v1.73h-1.46zM78.27 39h1.46v1.73h-1.46zM124.27 37.27h1.46v1.73h-1.46zM124.27 39h1.46v1.73h-1.46zM130.27 37.27h1.46v1.73h-1.46zM130.27 39h1.46v1.73h-1.46zM170.27 37.27h1.46v1.73h-1.46zM170.27 39h1.46v1.73h-1.46zM176.3 37.3h1.4v1.7h-1.4zM176.3 39h1.7v1.7h-1.7zM178 39.3h1.7v1.4h-1.7zM72.2 39.2h1.6v1.6h-1.6zM90.27 39.27h1.46v1.73h-1.46zM90.27 41h1.46v1.73h-1.46zM102.3 39.3h1.7v1.4h-1.7zM104 39.3h1.7v1.7h-1.7zM104.3 41h1.7v1.7h-1.7zM106 41.3h1.7v1.4h-1.7zM152.27 39.27h1.46v1.73h-1.46zM152.27 41h1.46v1.73h-1.46zM128.3 41.3h1.4v1.7h-1.4zM128 43h1.7v1.7h-1.7zM126.3 43.3h1.7v1.7h-1.7zM126.3 45h1.4v1.7h-1.4zM188.2 41.2h1.6v1.6h-1.6zM94.27 43.27h1.46v1.73h-1.46zM94.27 45h1.46v1.73h-1.46zM98.2 43.2h1.6v1.6h-1.6zM132.3 43.3h1.4v1.7h-1.4zM132 45h1.7v1.7h-1.7zM130.3 45.3h1.7v1.4h-1.7zM158.3 43.3h1.4v1.7h-1.4zM158.3 45h1.7v1.7h-1.7zM160 45.3h1.7v1.4h-1.7zM192.2 43.2h1.6v1.6h-1.6zM84.2 45.2h1.6v1.6h-1.6zM86.2 47.2h1.6v1.6h-1.6zM148.2 47.2h1.6v1.6h-1.6zM204.2 47.2h1.6v1.6h-1.6zM84.2 49.2h1.6v1.6h-1.6zM136.27 49.27h1.46v1.73h-1.46zM136.27 51h1.46v1.73h-1.46zM154.2 49.2h1.6v1.6h-1.6zM166.27 49.27h1.46v1.73h-1.46zM166.27 51h1.46v1.73h-1.46zM190.2 49.2h1.6v1.6h-1.6zM148.2 51.2h1.6v1.6h-1.6zM180.2 51.2h1.6v1.6h-1.6zM184.2 51.2h1.6v1.6h-1.6zM198.27 51.27h1.46v1.73h-1.46zM198.27 53h1.46v1.73h-1.46zM78.3 53.3h1.4v1.7h-1.4zM78 55h1.7v1.7h-1.7zM76.3 55.3h1.7v1.4h-1.7zM84.27 53.27h1.46v1.73h-1.46zM84.27 55h1.46v1.73h-1.46zM134.2 53.2h1.6v1.6h-1.6zM170.2 53.2h1.6v1.6h-1.6zM178.27 53.27h1.46v1.73h-1.46zM178.27 55h1.46v1.73h-1.46zM182.2 53.2h1.6v1.6h-1.6zM160.2 55.2h1.6v1.6h-1.6zM146.3 57.3h1.4v1.7h-1.4zM146 59h1.7v1.7h-1.7zM144.3 59.3h1.7v1.4h-1.7zM150.27 57.27h1.73v1.46h-1.73zM152 57.27h1.73v1.46h-1.73zM176.2 57.2h1.6v1.6h-1.6zM184.3 57.3h1.4v1.7h-1.4zM184 59h1.7v1.7h-1.7zM182.3 59.3h1.7v1.4h-1.7zM188.27 57.27h1.46v1.73h-1.46zM188.27 59h1.46v1.73h-1.46zM178.2 59.2h1.6v1.6h-1.6zM40.2 61.2h1.6v1.6h-1.6zM64.2 61.2h1.6v1.6h-1.6zM152.2 61.2h1.6v1.6h-1.6zM156.27 61.27h1.46v1.73h-1.46zM156.27 63h1.46v1.73h-1.46zM160.2 61.2h1.6v1.6h-1.6zM174.2 61.2h1.6v1.6h-1.6zM206.2 61.2h1.6v1.6h-1.6zM138.2 63.2h1.6v1.6h-1.6zM178.2 63.2h1.6v1.6h-1.6zM184.2 63.2h1.6v1.6h-1.6zM196.2 63.2h1.6v1.6h-1.6zM204.2 63.2h1.6v1.6h-1.6zM150.2 65.2h1.6v1.6h-1.6zM154.2 65.2h1.6v1.6h-1.6zM158.27 65.27h1.46v1.73h-1.46zM158.27 67h1.46v1.73h-1.46zM186.27 67.27h1.73v1.46h-1.73zM188 67.27h1.73v1.46h-1.73zM132.2 69.2h1.6v1.6h-1.6zM150.2 69.2h1.6v1.6h-1.6zM156.27 69.27h1.46v1.73h-1.46zM156.27 71h1.46v1.73h-1.46zM168.2 69.2h1.6v1.6h-1.6zM176.2 69.2h1.6v1.6h-1.6zM62.2 71.2h1.6v1.6h-1.6zM60.2 73.2h1.6v1.6h-1.6zM58.2 75.2h1.6v1.6h-1.6zM62.2 75.2h1.6v1.6h-1.6zM66.3 75.3h1.4v1.7h-1.4zM66 77h1.7v1.7h-1.7zM64.3 77.3h1.7v1.4h-1.7zM156.27 75.27h1.73v1.46h-1.73zM158 75.27h1.73v1.46h-1.73zM94.2 79.2h1.6v1.6h-1.6zM90.3 81.3h1.4v1.7h-1.4zM90 83h1.7v1.7h-1.7zM88.3 83.3h1.7v1.4h-1.7zM226.3 81.3h1.4v1.7h-1.4zM226 83h1.7v1.7h-1.7zM224.3 83.3h1.7v1.4h-1.7zM56.2 83.2h1.6v1.6h-1.6zM220.2 83.2h1.6v1.6h-1.6zM54.2 85.2h1.6v1.6h-1.6zM100.2 85.2h1.6v1.6h-1.6zM106.2 85.2h1.6v1.6h-1.6zM104.27 87.27h1.46v1.73h-1.46zM104.27 89h1.46v1.73h-1.46zM90.2 91.2h1.6v1.6h-1.6zM52.2 93.2h1.6v1.6h-1.6zM76.3 93.3h1.4v1.7h-1.4zM76.3 95h1.4v2h-1.4zM76.3 97h1.4v1.7h-1.4zM54.3 95.3h1.7v1.7h-1.7zM54.3 97h1.4v1.7h-1.4zM56 95.3h1.7v1.4h-1.7zM62.2 95.2h1.6v1.6h-1.6zM68.2 95.2h1.6v1.6h-1.6zM84.2 95.2h1.6v1.6h-1.6zM98.27 95.27h1.73v1.46h-1.73zM100 95.27h1.73v1.46h-1.73zM104.3 95.3h1.7v1.7h-1.7zM104.3 97h1.4v1.7h-1.4zM106 95.3h1.7v1.4h-1.7zM58.2 97.2h1.6v1.6h-1.6zM64.27 97.27h1.73v1.46h-1.73zM66 97.27h1.73v1.46h-1.73zM70.3 97.3h1.4v1.7h-1.4zM70.3 99h1.4v2h-1.4zM70.3 101h1.4v1.7h-1.4zM80.2 97.2h1.6v1.6h-1.6zM36.2 99.2h1.6v1.6h-1.6zM60.27 99.27h1.46v1.73h-1.46zM60.27 101h1.46v1.73h-1.46zM94.2 99.2h1.6v1.6h-1.6zM200.3 99.3h1.4v1.7h-1.4zM200.3 101h1.4v2h-1.4zM200.3 103h1.4v2h-1.4zM200.3 105h1.4v1.7h-1.4zM50.2 101.2h1.6v1.6h-1.6zM64.3 101.3h1.7v1.7h-1.7zM64.3 103h1.4v1.7h-1.4zM66 101.3h1.7v1.4h-1.7zM74.27 101.27h1.46v1.73h-1.46zM74.27 103h1.46v1.73h-1.46zM80.2 101.2h1.6v1.6h-1.6zM38.27 103.27h1.46v1.73h-1.46zM38.27 105h1.46v1.73h-1.46zM42.2 103.2h1.6v1.6h-1.6zM68.2 103.2h1.6v1.6h-1.6zM102.27 103.27h1.73v1.46h-1.73zM104 103.27h1.73v1.46h-1.73zM108.2 103.2h1.6v1.6h-1.6zM76.2 105.2h1.6v1.6h-1.6zM66.2 107.2h1.6v1.6h-1.6zM72.3 111.3h1.7v1.4h-1.7zM74 111.3h2v1.4h-2zM76 111.3h1.7v1.4h-1.7zM120.2 111.2h1.6v1.6h-1.6zM62.2 113.2h1.6v1.6h-1.6zM170.27 113.27h1.46v1.73h-1.46zM170.27 115h1.46v1.73h-1.46zM52.3 115.3h1.4v1.7h-1.4zM52.3 117h1.7v1.7h-1.7zM54 117.3h1.7v1.4h-1.7zM220.2 117.2h1.6v1.6h-1.6zM40.3 119.3h1.7v1.4h-1.7zM42 119.3h1.7v1.7h-1.7zM42.3 121h1.4v1.7h-1.4zM212.2 119.2h1.6v1.6h-1.6zM38.27 121.27h1.46v1.73h-1.46zM38.27 123h1.46v1.73h-1.46zM62.2 121.2h1.6v1.6h-1.6zM66.2 121.2h1.6v1.6h-1.6zM58.3 123.3h1.4v1.7h-1.4zM58.3 125h1.4v2h-1.4zM58 127h1.7v1.7h-1.7zM56.3 127.3h1.7v1.4h-1.7zM166.2 123.2h1.6v1.6h-1.6zM40.2 125.2h1.6v1.6h-1.6zM64.2 125.2h1.6v1.6h-1.6zM168.2 125.2h1.6v1.6h-1.6zM174.3 125.3h1.7v1.4h-1.7zM176 125.3h2v1.4h-2zM178 125.3h1.7v1.4h-1.7zM200.2 127.2h1.6v1.6h-1.6zM44.2 129.2h1.6v1.6h-1.6zM68.3 129.3h1.7v1.7h-1.7zM68.3 131h1.7v1.7h-1.7zM70 129.3h1.7v1.7h-1.7zM70 131h1.7v1.7h-1.7zM182.2 129.2h1.6v1.6h-1.6zM46.2 131.2h1.6v1.6h-1.6zM184.2 131.2h1.6v1.6h-1.6zM130.3 133.3h1.7v1.4h-1.7zM132 133.3h1.7v1.7h-1.7zM132.3 135h1.4v1.7h-1.4zM134.27 139.27h1.46v1.73h-1.46zM134.27 141h1.46v1.73h-1.46zM130.2 141.2h1.6v1.6h-1.6zM132.3 145.3h1.7v1.7h-1.7zM132.3 147h1.7v1.7h-1.7zM134 145.3h1.7v1.7h-1.7zM134 147h1.7v1.7h-1.7zM148.3 147.3h1.7v1.4h-1.7zM150 147.3h1.7v1.7h-1.7zM150.3 149h1.4v1.7h-1.4zM46.2 149.2h1.6v1.6h-1.6zM96.27 151.27h1.46v1.73h-1.46zM96.27 153h1.46v1.73h-1.46zM128.2 151.2h1.6v1.6h-1.6zM118.2 153.2h1.6v1.6h-1.6zM148.3 153.3h1.7v1.7h-1.7zM148.3 155h1.7v1.7h-1.7zM150 153.3h1.7v1.7h-1.7zM150 155h1.7v1.7h-1.7zM142.3 155.3h1.7v1.7h-1.7zM142.3 157h1.7v1.7h-1.7zM144 155.3h1.7v1.7h-1.7zM144 157h1.7v1.7h-1.7zM118.27 163.27h1.73v1.46h-1.73zM120 163.27h1.73v1.46h-1.73zM128.2 165.2h1.6v1.6h-1.6zM152.3 165.3h1.7v1.7h-1.7zM152.3 167h1.7v1.7h-1.7zM154 165.3h1.7v1.7h-1.7zM154 167h1.7v1.7h-1.7zM116.2 169.2h1.6v1.6h-1.6zM112.3 173.3h1.7v1.4h-1.7zM114 173.3h2v1.4h-2zM116 173.3h1.7v1.4h-1.7zM120.2 173.2h1.6v1.6h-1.6zM152.2 173.2h1.6v1.6h-1.6zM122.2 175.2h1.6v1.6h-1.6zM98.2 177.2h1.6v1.6h-1.6zM104.27 177.27h1.73v1.46h-1.73zM106 177.27h1.73v1.46h-1.73zM156.27 177.27h1.46v1.73h-1.46zM156.27 179h1.46v1.73h-1.46zM114.2 185.2h1.6v1.6h-1.6z"/>
<path fill="#32cd32" d="M128.2 55.2h1.6v1.6h-1.6zM110.2 59.2h1.6v1.6h-1.6zM102.3 63.3h1.4v1.7h-1.4zM102.3 65h1.4v2h-1.4zM102.3 67h1.4v1.7h-1.4zM110.2 71.2h1.6v1.6h-1.6zM88.2 73.2h1.6v1.6h-1.6zM92.2 73.2h1.6v1.6h-1.6zM96.2 73.2h1.6v1.6h-1.6zM106.2 73.2h1.6v1.6h-1.6zM130.3 73.3h1.7v1.7h-1.7zM130.3 75h1.4v1.7h-1.4zM132 73.3h1.7v1.4h-1.7zM94.2 75.2h1.6v1.6h-1.6zM86.3 77.3h1.4v1.7h-1.4zM86.3 79h1.7v1.7h-1.7zM88 79.3h1.7v1.7h-1.7zM88.3 81h1.4v1.7h-1.4zM74.3 81.3h1.4v1.7h-1.4zM74 83h1.7v1.7h-1.7zM72.3 83.3h1.7v1.7h-1.7zM72.3 85h1.4v1.7h-1.4zM82.2 81.2h1.6v1.6h-1.6zM84.27 83.27h1.46v1.73h-1.46zM84.27 85h1.46v1.73h-1.46zM76.2 85.2h1.6v1.6h-1.6zM88.2 85.2h1.6v1.6h-1.6zM70.2 87.2h1.6v1.6h-1.6zM56.2 89.2h1.6v1.6h-1.6zM68.27 89.27h1.46v1.73h-1.46zM68.27 91h1.46v1.73h-1.46zM76.2 89.2h1.6v1.6h-1.6zM90.3 89.3h1.7v1.4h-1.7zM92 89.3h1.7v1.7h-1.7zM92.3 91h1.4v1.7h-1.4zM64.27 91.27h1.46v1.73h-1.46zM64.27 93h1.46v1.73h-1.46zM72.27 91.27h1.73v1.46h-1.73zM74 91.27h1.73v1.46h-1.73zM70.27 93.27h1.46v1.73h-1.46zM70.27 95h1.46v1.73h-1.46zM78.2 95.2h1.6v1.6h-1.6zM82.2 95.2h1.6v1.6h-1.6zM74.2 97.2h1.6v1.6h-1.6zM42.2 99.2h1.6v1.6h-1.6zM46.2 99.2h1.6v1.6h-1.6zM50.2 99.2h1.6v1.6h-1.6zM54.3 99.3h1.7v1.4h-1.7zM56 99.3h1.7v1.7h-1.7zM56.3 101h1.4v1.7h-1.4zM68.27 99.27h1.46v1.73h-1.46zM68.27 101h1.46v1.73h-1.46zM76.2 99.2h1.6v1.6h-1.6zM80.2 99.2h1.6v1.6h-1.6zM44.2 101.2h1.6v1.6h-1.6zM52.2 101.2h1.6v1.6h-1.6zM82.2 101.2h1.6v1.6h-1.6z"/>
<path fill="#ffc0cb" d="M196.27 23.27h1.46v1.73h-1.46zM196.27 25h1.46v1.73h-1.46zM210.27 25.27h1.73v1.46h-1.73zM212 25.27h1.73v1.46h-1.73zM194.2 27.2h1.6v1.6h-1.6zM210.2 29.2h1.6v1.6h-1.6zM224.2 29.2h1.6v1.6h-1.6zM206.2 31.2h1.6v1.6h-1.6zM184.27 35.27h1.73v1.46h-1.73zM186 35.27h1.73v1.46h-1.73zM208.2 37.2h1.6v1.6h-1.6zM124.2 41.2h1.6v1.6h-1.6zM214.27 41.27h1.46v1.73h-1.46zM214.27 43h1.46v1.73h-1.46zM224.2 41.2h1.6v1.6h-1.6zM196.2 43.2h1.6v1.6h-1.6zM222.2 43.2h1.6v1.6h-1.6zM208.27 45.27h1.46v1.73h-1.46zM208.27 47h1.46v1.73h-1.46zM220.2 47.2h1.6v1.6h-1.6zM224.2 47.2h1.6v1.6h-1.6zM204.3 49.3h1.7v1.4h-1.7zM206 49.3h1.7v1.7h-1.7zM206.3 51h1.4v1.7h-1.4zM162.27 51.27h1.73v1.46h-1.73zM164 51.27h1.73v1.46h-1.73zM200.3 51.3h1.7v1.7h-1.7zM200.3 53h1.7v1.7h-1.7zM202 51.3h1.7v1.7h-1.7zM202 53h1.7v1.7h-1.7zM216.27 51.27h1.46v1.73h-1.46zM216.27 53h1.46v1.73h-1.46zM124.2 53.2h1.6v1.6h-1.6zM180.2 53.2h1.6v1.6h-1.6zM122.2 55.2h1.6v1.6h-1.6zM134.2 55.2h1.6v1.6h-1.6zM150.2 55.2h1.6v1.6h-1.6zM182.2 55.2h1.6v1.6h-1.6zM194.2 55.2h1.6v1.6h-1.6zM148.27 57.27h1.46v1.73h-1.46zM148.27 59h1.46v1.73h-1.46zM202.2 57.2h1.6v1.6h-1.6zM208.2 57.2h1.6v1.6h-1.6zM142.2 59.2h1.6v1.6h-1.6zM124.2 61.2h1.6v1.6h-1.6zM168.2 61.2h1.6v1.6h-1.6zM188.3 61.3h1.4v1.7h-1.4zM188.3 63h1.4v2h-1.4zM188.3 65h1.4v1.7h-1.4zM192.2 61.2h1.6v1.6h-1.6zM196.2 61.2h1.6v1.6h-1.6zM136.2 63.2h1.6v1.6h-1.6zM170.2 63.2h1.6v1.6h-1.6zM116.2 65.2h1.6v1.6h-1.6zM130.2 65.2h1.6v1.6h-1.6zM192.2 65.2h1.6v1.6h-1.6zM208.27 65.27h1.73v1.46h-1.73zM210 65.27h1.73v1.46h-1.73zM134.2 69.2h1.6v1.6h-1.6zM192.2 69.2h1.6v1.6h-1.6zM196.27 69.27h1.73v1.46h-1.73zM198 69.27h1.73v1.46h-1.73zM150.3 73.3h1.7v1.4h-1.7zM152 73.3h2v1.4h-2zM154 73.3h1.7v1.4h-1.7zM104.2 75.2h1.6v1.6h-1.6zM74.3 77.3h1.4v1.7h-1.4zM74 79h1.7v1.7h-1.7zM72.3 79.3h1.7v1.7h-1.7zM72.3 81h1.4v1.7h-1.4zM84.2 79.2h1.6v1.6h-1.6zM76.2 81.2h1.6v1.6h-1.6zM86.27 83.27h1.46v1.73h-1.46zM86.27 85h1.46v1.73h-1.46zM66.3 85.3h1.7v1.7h-1.7zM66.3 87h1.4v1.7h-1.4zM68 85.3h1.7v1.4h-1.7zM74.27 87.27h1.73v1.46h-1.73zM76 87.27h1.73v1.46h-1.73zM84.2 87.2h1.6v1.6h-1.6zM70.2 89.2h1.6v1.6h-1.6zM58.27 99.27h1.46v1.73h-1.46zM58.27 101h1.46v1.73h-1.46zM78.2 105.2h1.6v1.6h-1.6zM76.27 107.27h1.46v1.73h-1.46zM76.27 109h1.46v1.73h-1.46zM36.2 113.2h1.6v1.6h-1.6zM170.27 125.27h1.73v1.46h-1.73zM172 125.27h1.73v1.46h-1.73zM158.2 139.2h1.6v1.6h-1.6zM92.2 141.2h1.6v1.6h-1.6zM156.2 181.2h1.6v1.6h-1.6zM164.2 181.2h1.6v1.6h-1.6zM166.2 183.2h1.6v1.6h-1.6zM200.3 183.3h1.7v1.4h-1.7zM202 183.3h1.7v1.7h-1.7zM202.3 185h1.4v1.7h-1.4z"/>
<path fill="#ffff00" d="M118.2 35.2h1.6v1.6h-1.6zM116.2 41.2h1.6v1.6h-1.6zM134.2 43.2h1.6v1.6h-1.6zM186.27 49.27h1.46v1.73h-1.46zM186.27 51h1.46v1.73h-1.46zM174.2 51.2h1.6v1.6h-1.6zM136.2 53.2h1.6v1.6h-1.6zM186.2 55.2h1.6v1.6h-1.6zM190.27 59.27h1.46v1.73h-1.46zM190.27 61h1.46v1.73h-1.46zM200.2 59.2h1.6v1.6h-1.6zM216.2 59.2h1.6v1.6h-1.6zM206.2 63.2h1.6v1.6h-1.6zM192.2 67.2h1.6v1.6h-1.6zM194.27 69.27h1.46v1.73h-1.46zM194.27 71h1.46v1.73h-1.46zM174.2 71.2h1.6v1.6h-1.6zM56.2 93.2h1.6v1.6h-1.6zM66.2 99.2h1.6v1.6h-1.6zM42.2 107.2h1.6v1.6h-1.6zM40.2 109.2h1.6v1.6h-1.6z"/>
</g>
</g></g>
<g clip-path="url(#framea)">
<path d="M60.65 17.5L54.32 192.2M98.04 17.5L93.54 192.2M135.63 17.5L132.56 192.2M173.62 17.5L171.57 192.2M210.59 17.5L211.21 192.2M27.50 33.20L37.50 33.75L47.50 34.27L57.50 34.76L67.50 35.22L77.50 35.64L87.50 36.03L97.50 36.39L107.50 36.72L117.50 37.02L127.50 37.28L137.50 37.51L147.50 37.71L157.50 37.88L167.50 38.02L177.50 38.12L187.50 38.19L197.50 38.23L207.50 38.24L217.50 38.22L227.50 38.16M27.50 58.63L37.50 59.18L47.50 59.70L57.50 60.19L67.50 60.65L77.50 61.07L87.50 61.46L97.50 61.82L107.50 62.15L117.50 62.45L127.50 62.71L137.50 62.94L147.50 63.14L157.50 63.31L167.50 63.45L177.50 63.55L187.50 63.62L197.50 63.66L207.50 63.67L217.50 63.65L227.50 63.59M27.50 84.06L37.50 84.61L47.50 85.13L57.50 85.62L67.50 86.08L77.50 86.50L87.50 86.89L97.50 87.25L107.50 87.58L117.50 87.88L127.50 88.14L137.50 88.37L147.50 88.57L157.50 88.74L167.50 88.88L177.50 88.98L187.50 89.05L197.50 89.09L207.50 89.10L217.50 89.08L227.50 89.02M27.50 109.49L37.50 110.04L47.50 110.56L57.50 111.05L67.50 111.51L77.50 111.93L87.50 112.32L97.50 112.68L107.50 113.01L117.50 113.31L127.50 113.57L137.50 113.80L147.50 114.00L157.50 114.17L167.50 114.31L177.50 114.41L187.50 114.48L197.50 114.52L207.50 114.53L217.50 114.51L227.50 114.45M27.50 134.92L37.50 135.47L47.50 135.99L57.50 136.48L67.50 136.94L77.50 137.36L87.50 137.75L97.50 138.11L107.50 138.44L117.50 138.74L127.50 139.00L137.50 139.23L147.50 139.43L157.50 139.60L167.50 139.74L177.50 139.84L187.50 139.91L197.50 139.95L207.50 139.96L217.50 139.94L227.50 139.88M27.50 160.35L37.50 160.90L47.50 161.42L57.50 161.91L67.50 162.37L77.50 162.79L87.50 163.18L97.50 163.54L107.50 163.87L117.50 164.17L127.50 164.43L137.50 164.66L147.50 164.86L157.50 165.03L167.50 165.17L177.50 165.27L187.50 165.34L197.50 165.38L207.50 165.39L217.50 165.37L227.50 165.31M27.50 185.78L37.50 186.33L47.50 186.85L57.50 187.34L67.50 187.80L77.50 188.22L87.50 188.61L97.50 188.97L107.50 189.30L117.50 189.60L127.50 189.86L137.50 190.09L147.50 190.29L157.50 190.46L167.50 190.60L177.50 190.70L187.50 190.77L197.50 190.81L207.50 190.82L217.50 190.80L227.50 190.74" fill="none" stroke="#808080" stroke-opacity="0.62" stroke-width="0.8"/>
<path d="M228.5 97.4L227 99.4L225.5 102.4L224 105.4L221.5 108.4L219.5 110.4L221 111.9L221.5 114.4L222 117.4L221 119.4L218.5 120.9L216.5 122.9L216.5 125.4L214.5 126.9L212.5 128.9L210.5 130.9L208.5 132.9L208 130.9L206 129.4L204 130.9L201 130.4L197.5 131.4L193.5 131.9L190.5 133.9L187.5 135.9L184.5 137.2L182.5 136.4L180.5 134.4L179 131.4L176.5 128.9L173 128.2L169 128.9L166 130.4L163.5 132.9L161 133.4L161.5 135.4L163.5 137.9L164 140.4L161.5 140.4L160 141.9L158.5 144.9L157 148.4L155.5 151.4L155 155.4L156 159.4L157.5 163.4L159 167.4L161 170.9L163.5 173.9L166.5 176.9L171.5 179.9L175.5 181.9L179.5 183.4L184.5 183.9L188.5 184.9L192.5 186.4L194.5 186.9L197 183.9L200.5 182.9L204.5 182.9L207.5 184.4L209.5 187.4L211 190.9L211.5 192.4M191 137.4L190.5 140.4L192 143.4L194 143.4L196.5 140.4L198 136.4L197 135.9L195 138.9L193 137.9z" fill="none" stroke="#000" stroke-width="0.7" stroke-linejoin="round"/>
</g>
<path d="M130.2 97.95l5.4 5.4M130.2 103.35l5.4 -5.4" stroke="#000" stroke-width="1.25" fill="none"/>
<rect x="27.5" y="17.5" width="200" height="174.7" fill="none" stroke="#000" stroke-width="0.62"/>
<rect x="294.5" y="17.5" width="200" height="174.7" fill="#fff"/>
<g clip-path="url(#clipb)"><g opacity="0.999">
<rect x="297" y="17" width="202" height="176" fill="#ffa500"/>
<g filter="url(#bl)">
<path fill="#a52a2a" d="M429 18h2v5h-2zM298 49h5v2h-5zM401 57h2v2h-2zM395 59h8v2h-8zM395 61h8v2h-8zM451 67h2v2h-2zM385 69h6v2h-6zM385 71h6v2h-6zM367 73h6v2h-6zM381 73h8v2h-8zM365 75h24v2h-24zM437 75h2v2h-2zM365 77h26v2h-26zM435 77h6v2h-6zM367 79h24v2h-24zM437 79h2v2h-2zM367 81h24v2h-24zM437 81h2v2h-2zM369 83h22v2h-22zM371 85h20v2h-20zM461 85h8v2h-8zM367 87h28v2h-28zM461 87h8v2h-8zM367 89h28v2h-28zM461 89h2v2h-2zM367 91h24v2h-24zM461 91h2v2h-2zM367 93h24v2h-24zM461 93h2v2h-2zM365 95h28v2h-28zM443 95h4v2h-4zM493 95h2v2h-2zM365 97h20v2h-20zM387 97h4v2h-4zM441 97h8v2h-8zM493 97h2v2h-2zM361 99h24v2h-24zM411 99h4v2h-4zM445 99h2v2h-2zM451 99h8v2h-8zM465 99h6v2h-6zM493 99h2v2h-2zM361 101h10v2h-10zM373 101h8v2h-8zM411 101h4v2h-4zM447 101h4v2h-4zM453 101h4v2h-4zM465 101h6v2h-6zM493 101h2v2h-2zM361 103h6v2h-6zM413 103h2v2h-2zM445 103h6v2h-6zM455 103h2v2h-2zM467 103h2v2h-2zM491 103h4v2h-4zM443 105h8v2h-8zM455 105h2v2h-2zM491 105h4v2h-4zM391 107h4v2h-4zM443 107h6v2h-6zM489 107h6v2h-6zM387 109h8v2h-8zM441 109h6v2h-6zM489 109h6v2h-6zM387 111h4v2h-4zM441 111h4v2h-4zM463 111h4v2h-4zM489 111h6v2h-6zM463 113h6v2h-6zM489 113h6v2h-6zM489 115h6v2h-6zM401 117h4v2h-4zM489 117h6v2h-6zM401 119h6v2h-6zM487 119h8v2h-8zM401 121h4v2h-4zM431 121h4v2h-4zM485 121h10v2h-10zM403 123h2v2h-2zM411 123h2v2h-2zM431 123h6v2h-6zM441 123h2v2h-2zM483 123h12v2h-12zM405 125h8v2h-8zM431 125h14v2h-14zM447 125h6v2h-6zM481 125h14v2h-14zM403 127h10v2h-10zM423 127h32v2h-32zM479 127h16v2h-16zM389 129h2v2h-2zM401 129h10v2h-10zM423 129h72v2h-72zM387 131h6v2h-6zM399 131h14v2h-14zM421 131h2v2h-2zM425 131h70v2h-70zM387 133h6v2h-6zM403 133h12v2h-12zM425 133h70v2h-70zM403 135h92v2h-92zM405 137h90v2h-90zM339 139h6v2h-6zM395 139h6v2h-6zM405 139h10v2h-10zM417 139h78v2h-78zM339 141h6v2h-6zM395 141h6v2h-6zM405 141h8v2h-8zM417 141h78v2h-78zM339 143h6v2h-6zM415 143h80v2h-80zM339 145h6v2h-6zM415 145h80v2h-80zM298 147h5v2h-5zM341 147h2v2h-2zM417 147h78v2h-78zM417 149h78v2h-78zM363 151h4v2h-4zM417 151h78v2h-78zM363 153h4v2h-4zM415 153h80v2h-80zM363 155h2v2h-2zM417 155h78v2h-78zM417 157h78v2h-78zM419 159h76v2h-76zM419 161h76v2h-76zM423 163h72v2h-72zM423 165h72v2h-72zM423 167h72v2h-72zM423 169h72v2h-72zM393 171h4v2h-4zM423 171h72v2h-72zM391 173h8v2h-8zM423 173h72v2h-72zM391 175h8v2h-8zM423 175h72v2h-72zM423 177h72v2h-72zM298 179h7v2h-7zM425 179h70v2h-70zM298 181h7v2h-7zM427 181h68v2h-68zM298 183h9v2h-9zM429 183h36v2h-36zM467 183h28v2h-28zM298 185h11v2h-11zM433 185h30v2h-30zM467 185h28v2h-28zM298 187h7v5h-7zM307 187h2v5h-2zM343 187h2v5h-2zM387 187h2v5h-2zM435 187h28v5h-28zM475 187h20v5h-20z"/>
<path fill="#00ffff" d="M423 131h2v2h-2zM361 143h4v2h-4zM359 145h6v2h-6zM463 187h2v5h-2zM473 187h2v5h-2z"/>
<path fill="#556b2f" d="M365 18h12v5h-12zM379 18h2v5h-2zM387 18h2v5h-2zM395 18h2v5h-2zM399 18h4v5h-4zM407 18h2v5h-2zM415 18h8v5h-8zM425 18h2v5h-2zM435 18h10v5h-10zM447 18h2v5h-2zM451 18h10v5h-10zM467 18h4v5h-4zM475 18h2v5h-2zM367 23h16v2h-16zM395 23h2v2h-2zM399 23h10v2h-10zM415 23h6v2h-6zM423 23h4v2h-4zM439 23h22v2h-22zM469 23h2v2h-2zM369 25h14v2h-14zM395 25h2v2h-2zM399 25h18v2h-18zM425 25h2v2h-2zM435 25h2v2h-2zM439 25h8v2h-8zM449 25h12v2h-12zM371 27h14v2h-14zM397 27h4v2h-4zM407 27h12v2h-12zM423 27h4v2h-4zM431 27h6v2h-6zM439 27h8v2h-8zM451 27h10v2h-10zM371 29h14v2h-14zM389 29h2v2h-2zM397 29h6v2h-6zM409 29h18v2h-18zM431 29h6v2h-6zM439 29h6v2h-6zM451 29h10v2h-10zM369 31h16v2h-16zM387 31h6v2h-6zM397 31h6v2h-6zM405 31h16v2h-16zM423 31h2v2h-2zM431 31h6v2h-6zM439 31h8v2h-8zM451 31h12v2h-12zM347 33h4v2h-4zM369 33h24v2h-24zM399 33h18v2h-18zM419 33h2v2h-2zM423 33h2v2h-2zM431 33h16v2h-16zM449 33h12v2h-12zM333 35h2v2h-2zM339 35h2v2h-2zM347 35h4v2h-4zM371 35h24v2h-24zM399 35h16v2h-16zM433 35h14v2h-14zM453 35h4v2h-4zM481 35h6v2h-6zM333 37h8v2h-8zM347 37h4v2h-4zM373 37h16v2h-16zM401 37h14v2h-14zM435 37h14v2h-14zM477 37h2v2h-2zM481 37h10v2h-10zM331 39h12v2h-12zM375 39h12v2h-12zM391 39h2v2h-2zM395 39h22v2h-22zM421 39h4v2h-4zM435 39h16v2h-16zM455 39h6v2h-6zM475 39h14v2h-14zM331 41h12v2h-12zM377 41h10v2h-10zM391 41h14v2h-14zM413 41h4v2h-4zM421 41h10v2h-10zM435 41h16v2h-16zM455 41h8v2h-8zM469 41h18v2h-18zM489 41h2v2h-2zM331 43h8v2h-8zM379 43h4v2h-4zM385 43h2v2h-2zM389 43h16v2h-16zM413 43h4v2h-4zM423 43h12v2h-12zM437 43h26v2h-26zM467 43h24v2h-24zM381 45h2v2h-2zM391 45h16v2h-16zM413 45h4v2h-4zM419 45h16v2h-16zM441 45h20v2h-20zM465 45h14v2h-14zM481 45h12v2h-12zM369 47h8v2h-8zM383 47h2v2h-2zM391 47h2v2h-2zM397 47h8v2h-8zM417 47h62v2h-62zM483 47h6v2h-6zM359 49h6v2h-6zM369 49h8v2h-8zM381 49h4v2h-4zM399 49h6v2h-6zM415 49h56v2h-56zM483 49h12v2h-12zM357 51h6v2h-6zM373 51h4v2h-4zM379 51h6v2h-6zM391 51h2v2h-2zM401 51h4v2h-4zM415 51h54v2h-54zM477 51h18v2h-18zM341 53h24v2h-24zM375 53h10v2h-10zM389 53h4v2h-4zM401 53h8v2h-8zM419 53h52v2h-52zM477 53h18v2h-18zM341 55h24v2h-24zM375 55h18v2h-18zM415 55h76v2h-76zM341 57h24v2h-24zM377 57h18v2h-18zM413 57h76v2h-76zM341 59h4v2h-4zM353 59h4v2h-4zM359 59h4v2h-4zM375 59h20v2h-20zM411 59h66v2h-66zM479 59h10v2h-10zM377 61h18v2h-18zM405 61h72v2h-72zM479 61h2v2h-2zM485 61h4v2h-4zM363 63h2v2h-2zM369 63h2v2h-2zM383 63h6v2h-6zM407 63h52v2h-52zM463 63h14v2h-14zM485 63h4v2h-4zM363 65h8v2h-8zM385 65h4v2h-4zM411 65h26v2h-26zM439 65h8v2h-8zM449 65h10v2h-10zM463 65h14v2h-14zM485 65h10v2h-10zM363 67h6v2h-6zM385 67h2v2h-2zM411 67h26v2h-26zM455 67h2v2h-2zM461 67h6v2h-6zM485 67h10v2h-10zM363 69h8v2h-8zM409 69h22v2h-22zM461 69h6v2h-6zM485 69h10v2h-10zM361 71h10v2h-10zM407 71h24v2h-24zM447 71h2v2h-2zM455 71h2v2h-2zM461 71h6v2h-6zM485 71h10v2h-10zM359 73h4v2h-4zM405 73h22v2h-22zM455 73h2v2h-2zM477 73h18v2h-18zM405 75h6v2h-6zM417 75h2v2h-2zM453 75h2v2h-2zM477 75h18v2h-18zM477 77h6v2h-6zM487 77h8v2h-8zM343 79h2v2h-2zM477 79h8v2h-8zM487 79h8v2h-8zM329 81h10v2h-10zM341 81h10v2h-10zM479 81h4v2h-4zM487 81h8v2h-8zM327 83h8v2h-8zM339 83h2v2h-2zM345 83h4v2h-4zM493 83h2v2h-2zM325 85h10v2h-10zM345 85h2v2h-2zM323 87h12v2h-12zM321 89h14v2h-14zM321 91h14v2h-14zM343 91h4v2h-4zM319 93h14v2h-14zM343 93h8v2h-8zM319 95h6v2h-6zM331 95h2v2h-2zM343 95h8v2h-8zM321 97h4v2h-4zM331 97h4v2h-4zM343 97h4v2h-4zM309 99h6v2h-6zM321 99h4v2h-4zM309 101h6v2h-6zM311 103h2v2h-2zM311 105h2v2h-2zM311 107h2v2h-2z"/>
<path fill="#00ff00" d="M298 18h13v5h-13zM315 18h24v5h-24zM343 18h8v5h-8zM353 18h4v5h-4zM359 18h4v5h-4zM298 23h13v2h-13zM313 23h34v2h-34zM359 23h4v2h-4zM298 25h47v2h-47zM359 25h4v2h-4zM298 27h45v2h-45zM357 27h4v2h-4zM298 29h43v2h-43zM349 29h14v2h-14zM305 31h34v2h-34zM349 31h14v2h-14zM298 33h39v2h-39zM345 33h2v2h-2zM351 33h12v2h-12zM367 33h2v2h-2zM298 35h5v2h-5zM321 35h12v2h-12zM341 35h6v2h-6zM351 35h12v2h-12zM367 35h4v2h-4zM298 37h5v2h-5zM307 37h4v2h-4zM319 37h14v2h-14zM341 37h6v2h-6zM351 37h22v2h-22zM429 37h6v2h-6zM298 39h5v2h-5zM305 39h6v2h-6zM317 39h14v2h-14zM343 39h32v2h-32zM427 39h8v2h-8zM298 41h7v2h-7zM319 41h12v2h-12zM351 41h12v2h-12zM365 41h12v2h-12zM431 41h4v2h-4zM298 43h7v2h-7zM319 43h12v2h-12zM339 43h4v2h-4zM351 43h10v2h-10zM367 43h12v2h-12zM298 45h7v2h-7zM317 45h28v2h-28zM351 45h10v2h-10zM367 45h14v2h-14zM298 47h5v2h-5zM321 47h34v2h-34zM327 49h10v2h-10zM343 49h2v2h-2zM298 51h5v2h-5zM315 51h6v2h-6zM327 51h10v2h-10zM343 51h2v2h-2zM298 53h5v2h-5zM307 53h14v2h-14zM335 53h6v2h-6zM298 55h5v2h-5zM313 55h8v2h-8zM335 55h6v2h-6zM298 57h9v2h-9zM313 57h28v2h-28zM311 59h30v2h-30zM351 59h2v2h-2zM313 61h22v2h-22zM347 61h6v2h-6zM298 63h5v2h-5zM311 63h4v2h-4zM323 63h10v2h-10zM347 63h6v2h-6zM459 63h4v2h-4zM298 65h17v2h-17zM323 65h10v2h-10zM347 65h6v2h-6zM459 65h4v2h-4zM298 67h9v2h-9zM315 67h16v2h-16zM459 67h2v2h-2zM303 69h4v2h-4zM315 69h16v2h-16zM357 69h6v2h-6zM449 69h2v2h-2zM457 69h4v2h-4zM298 71h9v2h-9zM315 71h16v2h-16zM347 71h2v2h-2zM355 71h6v2h-6zM449 71h4v2h-4zM298 73h9v2h-9zM313 73h16v2h-16zM333 73h18v2h-18zM303 75h4v2h-4zM313 75h42v2h-42zM455 75h2v2h-2zM313 77h42v2h-42zM298 79h9v2h-9zM313 79h12v2h-12zM329 79h14v2h-14zM345 79h14v2h-14zM298 81h9v2h-9zM339 81h2v2h-2zM351 81h14v2h-14zM298 83h7v2h-7zM351 83h12v2h-12zM351 85h8v2h-8zM298 87h7v2h-7zM311 93h6v2h-6zM311 95h4v2h-4zM311 97h4v2h-4zM298 99h7v2h-7zM298 101h11v2h-11zM298 103h13v2h-13zM313 103h8v2h-8zM331 103h8v2h-8zM298 105h13v2h-13zM313 105h10v2h-10zM331 105h6v2h-6zM303 107h8v2h-8zM313 107h10v2h-10zM335 107h6v2h-6zM303 109h22v2h-22zM333 109h6v2h-6zM298 111h27v2h-27zM331 111h6v2h-6zM298 113h9v2h-9zM315 113h10v2h-10zM335 113h2v2h-2zM298 115h9v2h-9zM315 115h10v2h-10zM298 117h9v2h-9zM315 117h10v2h-10zM298 119h13v2h-13zM317 119h8v2h-8zM298 121h27v2h-27zM298 123h27v2h-27zM298 125h19v2h-19zM331 125h4v2h-4zM298 127h19v2h-19zM329 127h4v2h-4zM298 129h19v2h-19zM327 129h4v2h-4zM309 131h10v2h-10zM325 131h4v2h-4zM311 133h14v2h-14zM298 135h11v2h-11zM313 135h14v2h-14zM298 137h11v2h-11zM313 137h2v2h-2zM317 137h6v2h-6zM303 139h10v2h-10zM317 139h6v2h-6zM298 141h15v2h-15zM317 141h4v2h-4zM298 143h15v2h-15zM298 145h15v2h-15zM303 147h4v2h-4zM303 149h2v2h-2zM298 151h7v2h-7z"/>
<path fill="#32cd32" d="M383 18h4v5h-4zM389 18h2v5h-2zM397 18h2v5h-2zM403 18h2v5h-2zM423 18h2v5h-2zM431 18h4v5h-4zM445 18h2v5h-2zM449 18h2v5h-2zM461 18h6v5h-6zM471 18h4v5h-4zM477 18h4v5h-4zM383 23h2v2h-2zM389 23h2v2h-2zM397 23h2v2h-2zM421 23h2v2h-2zM429 23h8v2h-8zM461 23h8v2h-8zM471 23h10v2h-10zM387 25h4v2h-4zM393 25h2v2h-2zM397 25h2v2h-2zM417 25h8v2h-8zM427 25h8v2h-8zM447 25h2v2h-2zM461 25h24v2h-24zM487 25h4v2h-4zM387 27h4v2h-4zM401 27h6v2h-6zM419 27h4v2h-4zM427 27h4v2h-4zM447 27h4v2h-4zM461 27h34v2h-34zM385 29h4v2h-4zM393 29h4v2h-4zM403 29h6v2h-6zM427 29h4v2h-4zM445 29h6v2h-6zM461 29h4v2h-4zM469 29h8v2h-8zM483 29h12v2h-12zM385 31h2v2h-2zM393 31h4v2h-4zM403 31h2v2h-2zM427 31h4v2h-4zM447 31h4v2h-4zM463 31h14v2h-14zM483 31h12v2h-12zM365 33h2v2h-2zM393 33h6v2h-6zM427 33h4v2h-4zM447 33h2v2h-2zM461 33h16v2h-16zM483 33h12v2h-12zM365 35h2v2h-2zM395 35h4v2h-4zM431 35h2v2h-2zM447 35h2v2h-2zM457 35h8v2h-8zM467 35h10v2h-10zM487 35h8v2h-8zM389 37h10v2h-10zM455 37h6v2h-6zM469 37h8v2h-8zM387 39h4v2h-4zM393 39h2v2h-2zM417 39h4v2h-4zM469 39h6v2h-6zM489 39h2v2h-2zM363 41h2v2h-2zM387 41h4v2h-4zM405 41h8v2h-8zM417 41h4v2h-4zM487 41h2v2h-2zM361 43h6v2h-6zM383 43h2v2h-2zM387 43h2v2h-2zM405 43h8v2h-8zM417 43h6v2h-6zM361 45h6v2h-6zM383 45h8v2h-8zM407 45h6v2h-6zM417 45h2v2h-2zM479 45h2v2h-2zM361 47h8v2h-8zM377 47h6v2h-6zM385 47h6v2h-6zM393 47h4v2h-4zM405 47h12v2h-12zM479 47h4v2h-4zM365 49h4v2h-4zM377 49h4v2h-4zM385 49h14v2h-14zM405 49h10v2h-10zM471 49h12v2h-12zM363 51h10v2h-10zM377 51h2v2h-2zM385 51h6v2h-6zM393 51h8v2h-8zM405 51h10v2h-10zM469 51h8v2h-8zM365 53h10v2h-10zM385 53h4v2h-4zM393 53h8v2h-8zM409 53h10v2h-10zM471 53h6v2h-6zM365 55h2v2h-2zM371 55h4v2h-4zM393 55h22v2h-22zM373 57h4v2h-4zM395 57h6v2h-6zM409 57h4v2h-4zM357 59h2v2h-2zM373 59h2v2h-2zM409 59h2v2h-2zM477 59h2v2h-2zM353 61h6v2h-6zM371 61h6v2h-6zM403 61h2v2h-2zM477 61h2v2h-2zM481 61h4v2h-4zM353 63h2v2h-2zM371 63h12v2h-12zM399 63h8v2h-8zM477 63h8v2h-8zM489 63h6v2h-6zM371 65h14v2h-14zM397 65h14v2h-14zM437 65h2v2h-2zM447 65h2v2h-2zM477 65h8v2h-8zM369 67h16v2h-16zM397 67h14v2h-14zM437 67h14v2h-14zM453 67h2v2h-2zM457 67h2v2h-2zM477 67h2v2h-2zM371 69h14v2h-14zM397 69h2v2h-2zM401 69h8v2h-8zM431 69h18v2h-18zM451 69h6v2h-6zM371 71h12v2h-12zM403 71h4v2h-4zM431 71h16v2h-16zM453 71h2v2h-2zM457 71h2v2h-2zM355 73h4v2h-4zM363 73h4v2h-4zM373 73h8v2h-8zM403 73h2v2h-2zM431 73h24v2h-24zM469 73h4v2h-4zM355 75h10v2h-10zM411 75h6v2h-6zM419 75h10v2h-10zM439 75h6v2h-6zM447 75h6v2h-6zM469 75h8v2h-8zM355 77h10v2h-10zM413 77h14v2h-14zM441 77h4v2h-4zM447 77h6v2h-6zM469 77h6v2h-6zM483 77h4v2h-4zM359 79h8v2h-8zM411 79h12v2h-12zM441 79h4v2h-4zM447 79h6v2h-6zM485 79h2v2h-2zM365 81h2v2h-2zM407 81h16v2h-16zM441 81h2v2h-2zM447 81h4v2h-4zM483 81h4v2h-4zM335 83h4v2h-4zM341 83h4v2h-4zM349 83h2v2h-2zM363 83h6v2h-6zM405 83h6v2h-6zM419 83h2v2h-2zM441 83h10v2h-10zM483 83h2v2h-2zM335 85h10v2h-10zM347 85h4v2h-4zM359 85h12v2h-12zM441 85h10v2h-10zM453 85h6v2h-6zM335 87h32v2h-32zM453 87h8v2h-8zM335 89h32v2h-32zM453 89h2v2h-2zM335 91h8v2h-8zM347 91h20v2h-20zM333 93h10v2h-10zM351 93h16v2h-16zM481 93h4v2h-4zM325 95h6v2h-6zM333 95h10v2h-10zM351 95h14v2h-14zM481 95h4v2h-4zM325 97h6v2h-6zM335 97h8v2h-8zM347 97h18v2h-18zM481 97h4v2h-4zM325 99h36v2h-36zM321 101h38v2h-38zM321 103h10v2h-10zM339 103h18v2h-18zM323 105h8v2h-8zM337 105h18v2h-18zM323 107h12v2h-12zM341 107h10v2h-10zM325 109h8v2h-8zM339 109h12v2h-12zM325 111h6v2h-6zM337 111h8v2h-8zM325 113h10v2h-10zM325 115h12v2h-12zM325 117h12v2h-12zM325 119h12v2h-12zM325 121h10v2h-10zM325 123h12v2h-12zM317 125h14v2h-14zM317 127h12v2h-12zM317 129h10v2h-10zM298 131h11v2h-11zM319 131h6v2h-6zM298 133h11v2h-11z"/>
<path fill="#ffc0cb" d="M427 73h4v2h-4zM429 75h4v2h-4zM309 133h2v2h-2zM309 135h4v2h-4zM309 137h4v2h-4zM298 139h5v2h-5zM298 153h5v2h-5z"/>
<path fill="#ffa500" d="M317.27 23.27h1.73v1.46h-1.73zM319 23.27h1.73v1.46h-1.73zM449.2 23.2h1.6v1.6h-1.6zM465.2 23.2h1.6v1.6h-1.6zM341.2 25.2h1.6v1.6h-1.6zM389.27 25.27h1.46v1.73h-1.46zM389.27 27h1.46v1.73h-1.46zM393.2 25.2h1.6v1.6h-1.6zM403.2 25.2h1.6v1.6h-1.6zM417.2 25.2h1.6v1.6h-1.6zM469.2 25.2h1.6v1.6h-1.6zM397.3 27.3h1.4v1.7h-1.4zM397.3 29h1.4v2h-1.4zM397.3 31h1.4v1.7h-1.4zM421.2 27.2h1.6v1.6h-1.6zM441.3 27.3h1.7v1.7h-1.7zM441.3 29h1.4v1.7h-1.4zM443 27.3h1.7v1.4h-1.7zM465.27 27.27h1.73v1.46h-1.73zM467 27.27h1.73v1.46h-1.73zM489.2 27.2h1.6v1.6h-1.6zM351.2 29.2h1.6v1.6h-1.6zM411.2 29.2h1.6v1.6h-1.6zM415.27 29.27h1.46v1.73h-1.46zM415.27 31h1.46v1.73h-1.46zM425.2 29.2h1.6v1.6h-1.6zM445.27 29.27h1.73v1.46h-1.73zM447 29.27h1.73v1.46h-1.73zM469.2 29.2h1.6v1.6h-1.6zM491.2 29.2h1.6v1.6h-1.6zM361.27 31.27h1.46v1.73h-1.46zM361.27 33h1.46v1.73h-1.46zM427.3 31.3h1.4v1.7h-1.4zM427.3 33h1.7v1.7h-1.7zM429 33.3h1.7v1.4h-1.7zM465.3 31.3h1.7v1.7h-1.7zM465.3 33h1.7v1.7h-1.7zM467 31.3h1.7v1.7h-1.7zM467 33h1.7v1.7h-1.7zM485.27 31.27h1.46v1.73h-1.46zM485.27 33h1.46v1.73h-1.46zM327.2 33.2h1.6v1.6h-1.6zM331.2 33.2h1.6v1.6h-1.6zM447.27 33.27h1.46v1.73h-1.46zM447.27 35h1.46v1.73h-1.46zM351.27 35.27h1.46v1.73h-1.46zM351.27 37h1.46v1.73h-1.46zM365.2 35.2h1.6v1.6h-1.6zM371.2 35.2h1.6v1.6h-1.6zM379.2 35.2h1.6v1.6h-1.6zM397.2 35.2h1.6v1.6h-1.6zM401.3 35.3h1.4v1.7h-1.4zM401.3 37h1.4v2h-1.4zM401.3 39h1.4v2h-1.4zM401.3 41h1.4v1.7h-1.4zM473.2 35.2h1.6v1.6h-1.6zM331.2 37.2h1.6v1.6h-1.6zM341.3 37.3h1.7v1.4h-1.7zM343 37.3h1.7v1.7h-1.7zM343.3 39h1.4v1.7h-1.4zM363.2 37.2h1.6v1.6h-1.6zM357.3 39.3h1.4v1.7h-1.4zM357.3 41h1.7v1.7h-1.7zM359 41.3h1.7v1.4h-1.7zM411.2 39.2h1.6v1.6h-1.6zM325.27 41.27h1.73v1.46h-1.73zM327 41.27h1.73v1.46h-1.73zM341.2 41.2h1.6v1.6h-1.6zM425.2 41.2h1.6v1.6h-1.6zM483.27 41.27h1.46v1.73h-1.46zM483.27 43h1.46v1.73h-1.46zM361.27 43.27h1.46v1.73h-1.46zM361.27 45h1.46v1.73h-1.46zM431.3 43.3h1.7v1.4h-1.7zM433 43.3h1.7v1.7h-1.7zM433.3 45h1.4v1.7h-1.4zM441.27 43.27h1.46v1.73h-1.46zM441.27 45h1.46v1.73h-1.46zM409.2 45.2h1.6v1.6h-1.6zM465.2 45.2h1.6v1.6h-1.6zM411.2 47.2h1.6v1.6h-1.6zM435.3 47.3h1.7v1.4h-1.7zM437 47.3h2v1.4h-2zM439 47.3h1.7v1.4h-1.7zM459.3 47.3h1.7v1.4h-1.7zM461 47.3h2v1.7h-2zM461.3 49h1.4v1.7h-1.4zM463 47.3h1.7v1.4h-1.7zM481.27 47.27h1.46v1.73h-1.46zM481.27 49h1.46v1.73h-1.46zM359.2 49.2h1.6v1.6h-1.6zM443.3 49.3h1.7v1.7h-1.7zM443.3 51h1.7v1.7h-1.7zM445 49.3h1.7v1.7h-1.7zM445 51h1.7v1.7h-1.7zM467.2 51.2h1.6v1.6h-1.6zM485.2 51.2h1.6v1.6h-1.6zM481.27 53.27h1.46v1.73h-1.46zM481.27 55h1.46v1.73h-1.46zM413.2 55.2h1.6v1.6h-1.6zM441.27 55.27h1.73v1.46h-1.73zM443 55.27h1.73v1.46h-1.73zM459.27 55.27h1.73v1.46h-1.73zM461 55.27h1.73v1.46h-1.73zM477.2 55.2h1.6v1.6h-1.6zM455.2 57.2h1.6v1.6h-1.6zM463.2 57.2h1.6v1.6h-1.6zM473.2 57.2h1.6v1.6h-1.6zM323.3 59.3h1.7v1.4h-1.7zM325 59.3h2v1.4h-2zM327 59.3h1.7v1.4h-1.7zM481.3 61.3h1.7v1.7h-1.7zM481.3 63h1.7v1.7h-1.7zM483 61.3h1.7v1.7h-1.7zM483 63h1.7v1.7h-1.7zM349.3 63.3h1.4v1.7h-1.4zM349 65h1.7v1.7h-1.7zM347.3 65.3h1.7v1.4h-1.7zM457.27 63.27h1.46v1.73h-1.46zM457.27 65h1.46v1.73h-1.46zM489.3 63.3h1.7v1.4h-1.7zM491 63.3h2v1.4h-2zM493 63.3h1.7v1.4h-1.7zM397.27 67.27h1.46v1.73h-1.46zM397.27 69h1.46v1.73h-1.46zM449.2 67.2h1.6v1.6h-1.6zM385.27 69.27h1.46v1.73h-1.46zM385.27 71h1.46v1.73h-1.46zM401.2 69.2h1.6v1.6h-1.6zM325.27 71.27h1.73v1.46h-1.73zM327 71.27h1.73v1.46h-1.73zM447.2 71.2h1.6v1.6h-1.6zM465.2 71.2h1.6v1.6h-1.6zM371.2 73.2h1.6v1.6h-1.6zM381.3 73.3h1.7v1.4h-1.7zM383 73.3h1.7v1.7h-1.7zM383.3 75h1.7v1.7h-1.7zM385 75.3h1.7v1.4h-1.7zM365.3 75.3h1.7v1.7h-1.7zM365.3 77h1.4v1.7h-1.4zM367 75.3h1.7v1.4h-1.7zM483.2 75.2h1.6v1.6h-1.6zM315.2 77.2h1.6v1.6h-1.6zM335.27 77.27h1.46v1.73h-1.46zM335.27 79h1.46v1.73h-1.46zM343.27 77.27h1.73v1.46h-1.73zM345 77.27h1.73v1.46h-1.73zM377.27 77.27h1.46v1.73h-1.46zM377.27 79h1.46v1.73h-1.46zM441.2 77.2h1.6v1.6h-1.6zM473.2 77.2h1.6v1.6h-1.6zM369.2 81.2h1.6v1.6h-1.6zM383.2 83.2h1.6v1.6h-1.6zM461.2 85.2h1.6v1.6h-1.6zM459.2 87.2h1.6v1.6h-1.6zM321.2 89.2h1.6v1.6h-1.6zM387.2 89.2h1.6v1.6h-1.6zM365.27 95.27h1.46v1.73h-1.46zM365.27 97h1.46v1.73h-1.46zM371.2 97.2h1.6v1.6h-1.6zM483.2 97.2h1.6v1.6h-1.6zM303.3 101.3h1.4v1.7h-1.4zM303.3 103h1.4v2h-1.4zM303.3 105h1.4v1.7h-1.4zM365.2 101.2h1.6v1.6h-1.6zM319.27 105.27h1.73v1.46h-1.73zM321 105.27h1.73v1.46h-1.73zM315.27 107.27h1.46v1.73h-1.46zM315.27 109h1.46v1.73h-1.46zM321.2 121.2h1.6v1.6h-1.6zM421.2 131.2h1.6v1.6h-1.6zM425.2 131.2h1.6v1.6h-1.6zM317.3 135.3h1.7v1.4h-1.7zM319 135.3h2v1.4h-2zM321 135.3h1.7v1.4h-1.7zM411.3 135.3h1.7v1.7h-1.7zM411.3 137h1.7v1.7h-1.7zM413 135.3h1.7v1.7h-1.7zM413 137h1.7v1.7h-1.7zM421.27 135.27h1.73v1.46h-1.73zM423 135.27h1.73v1.46h-1.73zM419.3 139.3h1.7v1.7h-1.7zM419.3 141h1.4v1.7h-1.4zM421 139.3h1.7v1.4h-1.7zM311.2 143.2h1.6v1.6h-1.6zM303.2 147.2h1.6v1.6h-1.6z"/>
<path fill="#a52a2a" d="M493.27 23.27h1.46v1.73h-1.46zM493.27 25h1.46v1.73h-1.46zM315.2 25.2h1.6v1.6h-1.6zM437.27 35.27h1.46v1.73h-1.46zM437.27 37h1.46v1.73h-1.46zM465.2 35.2h1.6v1.6h-1.6zM429.27 37.27h1.46v1.73h-1.46zM429.27 39h1.46v1.73h-1.46zM399.27 39.27h1.46v1.73h-1.46zM399.27 41h1.46v1.73h-1.46zM413.27 39.27h1.46v1.73h-1.46zM413.27 41h1.46v1.73h-1.46zM437.2 41.2h1.6v1.6h-1.6zM321.27 43.27h1.46v1.73h-1.46zM321.27 45h1.46v1.73h-1.46zM315.2 47.2h1.6v1.6h-1.6zM445.2 47.2h1.6v1.6h-1.6zM327.3 53.3h1.7v1.7h-1.7zM327.3 55h1.4v1.7h-1.4zM329 53.3h1.7v1.4h-1.7zM457.2 55.2h1.6v1.6h-1.6zM335.2 59.2h1.6v1.6h-1.6zM361.2 61.2h1.6v1.6h-1.6zM449.2 61.2h1.6v1.6h-1.6zM333.2 65.2h1.6v1.6h-1.6zM343.27 65.27h1.73v1.46h-1.73zM345 65.27h1.73v1.46h-1.73zM353.3 65.3h1.4v1.7h-1.4zM353.3 67h1.7v1.7h-1.7zM355 67.3h1.7v1.4h-1.7zM419.27 65.27h1.73v1.46h-1.73zM421 65.27h1.73v1.46h-1.73zM449.27 65.27h1.73v1.46h-1.73zM451 65.27h1.73v1.46h-1.73zM359.27 67.27h1.73v1.46h-1.73zM361 67.27h1.73v1.46h-1.73zM393.3 67.3h1.7v1.4h-1.7zM395 67.3h1.7v1.7h-1.7zM395.3 69h1.4v1.7h-1.4zM475.2 67.2h1.6v1.6h-1.6zM347.27 71.27h1.46v1.73h-1.46zM347.27 73h1.46v1.73h-1.46zM477.2 75.2h1.6v1.6h-1.6zM429.2 77.2h1.6v1.6h-1.6zM443.2 77.2h1.6v1.6h-1.6zM451.27 77.27h1.46v1.73h-1.46zM451.27 79h1.46v1.73h-1.46zM393.2 79.2h1.6v1.6h-1.6zM405.27 79.27h1.46v1.73h-1.46zM405.27 81h1.46v1.73h-1.46zM433.2 79.2h1.6v1.6h-1.6zM477.2 79.2h1.6v1.6h-1.6zM469.2 81.2h1.6v1.6h-1.6zM393.2 83.2h1.6v1.6h-1.6zM415.3 83.3h1.7v1.7h-1.7zM415.3 85h1.7v1.7h-1.7zM417 83.3h1.7v1.7h-1.7zM417 85h1.7v1.7h-1.7zM421.3 83.3h1.7v1.7h-1.7zM421.3 85h1.7v1.7h-1.7zM423 83.3h1.7v1.7h-1.7zM423 85h1.7v1.7h-1.7zM431.2 83.2h1.6v1.6h-1.6zM459.2 85.2h1.6v1.6h-1.6zM401.27 87.27h1.73v1.46h-1.73zM403 87.27h1.73v1.46h-1.73zM411.2 87.2h1.6v1.6h-1.6zM485.27 87.27h1.73v1.46h-1.73zM487 87.27h1.73v1.46h-1.73zM415.2 89.2h1.6v1.6h-1.6zM469.2 89.2h1.6v1.6h-1.6zM307.27 91.27h1.46v1.73h-1.46zM307.27 93h1.46v1.73h-1.46zM395.2 91.2h1.6v1.6h-1.6zM465.2 91.2h1.6v1.6h-1.6zM401.2 93.2h1.6v1.6h-1.6zM429.2 93.2h1.6v1.6h-1.6zM473.2 93.2h1.6v1.6h-1.6zM487.2 93.2h1.6v1.6h-1.6zM403.2 99.2h1.6v1.6h-1.6zM433.2 99.2h1.6v1.6h-1.6zM397.2 101.2h1.6v1.6h-1.6zM481.3 103.3h1.7v1.4h-1.7zM483 103.3h2v1.4h-2zM485 103.3h1.7v1.4h-1.7zM439.2 105.2h1.6v1.6h-1.6zM473.2 105.2h1.6v1.6h-1.6zM385.2 107.2h1.6v1.6h-1.6zM453.2 107.2h1.6v1.6h-1.6zM361.3 111.3h1.7v1.7h-1.7zM361.3 113h1.4v1.7h-1.4zM363 111.3h1.7v1.4h-1.7zM415.2 111.2h1.6v1.6h-1.6zM373.27 113.27h1.46v1.73h-1.46zM373.27 115h1.46v1.73h-1.46zM311.27 115.27h1.46v1.73h-1.46zM311.27 117h1.46v1.73h-1.46zM351.2 115.2h1.6v1.6h-1.6zM413.3 115.3h1.7v1.7h-1.7zM413.3 117h1.4v1.7h-1.4zM415 115.3h1.7v1.4h-1.7zM341.3 117.3h1.7v1.7h-1.7zM341.3 119h1.7v1.7h-1.7zM343 117.3h1.7v1.7h-1.7zM343 119h1.7v1.7h-1.7zM473.2 117.2h1.6v1.6h-1.6zM355.27 119.27h1.73v1.46h-1.73zM357 119.27h1.73v1.46h-1.73zM383.2 119.2h1.6v1.6h-1.6zM411.2 119.2h1.6v1.6h-1.6zM379.2 121.2h1.6v1.6h-1.6zM353.2 123.2h1.6v1.6h-1.6zM397.2 125.2h1.6v1.6h-1.6zM415.2 125.2h1.6v1.6h-1.6zM375.3 129.3h1.7v1.7h-1.7zM375.3 131h1.7v1.7h-1.7zM377 129.3h1.7v1.7h-1.7zM377 131h1.7v1.7h-1.7zM395.27 129.27h1.73v1.46h-1.73zM397 129.27h1.73v1.46h-1.73zM421.2 129.2h1.6v1.6h-1.6zM363.2 131.2h1.6v1.6h-1.6zM419.2 131.2h1.6v1.6h-1.6zM423.2 131.2h1.6v1.6h-1.6zM355.27 133.27h1.46v1.73h-1.46zM355.27 135h1.46v1.73h-1.46zM369.27 133.27h1.46v1.73h-1.46zM369.27 135h1.46v1.73h-1.46zM421.2 133.2h1.6v1.6h-1.6zM335.3 135.3h1.4v1.7h-1.4zM335.3 137h1.4v2h-1.4zM335.3 139h1.4v1.7h-1.4zM347.27 135.27h1.73v1.46h-1.73zM349 135.27h1.73v1.46h-1.73zM365.2 137.2h1.6v1.6h-1.6zM375.2 137.2h1.6v1.6h-1.6zM383.3 137.3h1.7v1.4h-1.7zM385 137.3h2v1.4h-2zM387 137.3h1.7v1.4h-1.7zM403.2 141.2h1.6v1.6h-1.6zM327.2 143.2h1.6v1.6h-1.6zM379.2 143.2h1.6v1.6h-1.6zM407.2 143.2h1.6v1.6h-1.6zM307.2 145.2h1.6v1.6h-1.6zM401.2 145.2h1.6v1.6h-1.6zM313.27 147.27h1.73v1.46h-1.73zM315 147.27h1.73v1.46h-1.73zM321.27 147.27h1.46v1.73h-1.46zM321.27 149h1.46v1.73h-1.46zM345.2 147.2h1.6v1.6h-1.6zM327.2 151.2h1.6v1.6h-1.6zM351.27 151.27h1.46v1.73h-1.46zM351.27 153h1.46v1.73h-1.46zM385.2 153.2h1.6v1.6h-1.6zM309.27 155.27h1.73v1.46h-1.73zM311 155.27h1.73v1.46h-1.73zM309.2 159.2h1.6v1.6h-1.6zM319.27 159.27h1.73v1.46h-1.73zM321 159.27h1.73v1.46h-1.73zM351.2 159.2h1.6v1.6h-1.6zM391.3 159.3h1.7v1.4h-1.7zM393 159.3h1.7v1.7h-1.7zM393.3 161h1.4v1.7h-1.4zM343.27 161.27h1.46v1.73h-1.46zM343.27 163h1.46v1.73h-1.46zM333.2 165.2h1.6v1.6h-1.6zM353.2 165.2h1.6v1.6h-1.6zM363.27 165.27h1.73v1.46h-1.73zM365 165.27h1.73v1.46h-1.73zM309.2 169.2h1.6v1.6h-1.6zM323.2 169.2h1.6v1.6h-1.6zM411.3 169.3h1.7v1.7h-1.7zM411.3 171h1.4v1.7h-1.4zM413 169.3h1.7v1.4h-1.7zM417.2 169.2h1.6v1.6h-1.6zM341.27 175.27h1.73v1.46h-1.73zM343 175.27h1.73v1.46h-1.73zM349.2 175.2h1.6v1.6h-1.6zM319.2 177.2h1.6v1.6h-1.6zM365.2 177.2h1.6v1.6h-1.6zM393.27 181.27h1.46v1.73h-1.46zM393.27 183h1.46v1.73h-1.46zM417.2 181.2h1.6v1.6h-1.6zM423.2 181.2h1.6v1.6h-1.6zM403.27 183.27h1.46v1.73h-1.46zM403.27 185h1.46v1.73h-1.46zM315.2 185.2h1.6v1.6h-1.6zM321.27 185.27h1.73v1.46h-1.73zM323 185.27h1.73v1.46h-1.73zM381.27 185.27h1.73v1.46h-1.73zM383 185.27h1.73v1.46h-1.73zM407.2 185.2h1.6v1.6h-1.6z"/>
<path fill="#00ffff" d="M407.3 111.3h1.4v1.7h-1.4zM407.3 113h1.7v1.7h-1.7zM409 113.3h1.7v1.7h-1.7zM409.3 115h1.4v1.7h-1.4zM417.2 113.2h1.6v1.6h-1.6zM445.3 121.3h1.4v1.7h-1.4zM445.3 123h1.4v2h-1.4zM445.3 125h1.4v1.7h-1.4zM413.2 123.2h1.6v1.6h-1.6zM421.27 123.27h1.73v1.46h-1.73zM423 123.27h1.73v1.46h-1.73zM481.2 125.2h1.6v1.6h-1.6zM419.2 127.2h1.6v1.6h-1.6zM443.2 127.2h1.6v1.6h-1.6zM451.27 127.27h1.73v1.46h-1.73zM453 127.27h1.73v1.46h-1.73zM463.27 127.27h1.73v1.46h-1.73zM465 127.27h1.73v1.46h-1.73zM423.3 129.3h1.7v1.4h-1.7zM425 129.3h2v1.4h-2zM427 129.3h1.7v1.4h-1.7zM455.27 129.27h1.73v1.46h-1.73zM457 129.27h1.73v1.46h-1.73zM361.2 139.2h1.6v1.6h-1.6zM405.3 139.3h1.4v1.7h-1.4zM405.3 141h1.7v1.7h-1.7zM407 141.3h1.7v1.4h-1.7zM425.27 139.27h1.46v1.73h-1.46zM425.27 141h1.46v1.73h-1.46zM355.2 141.2h1.6v1.6h-1.6zM401.2 143.2h1.6v1.6h-1.6zM405.2 145.2h1.6v1.6h-1.6zM415.2 147.2h1.6v1.6h-1.6zM417.2 149.2h1.6v1.6h-1.6zM415.2 151.2h1.6v1.6h-1.6zM417.2 155.2h1.6v1.6h-1.6zM417.2 159.2h1.6v1.6h-1.6zM419.27 161.27h1.73v1.46h-1.73zM421 161.27h1.73v1.46h-1.73zM421.2 165.2h1.6v1.6h-1.6zM405.2 171.2h1.6v1.6h-1.6zM427.2 173.2h1.6v1.6h-1.6z"/>
<path fill="#556b2f" d="M361.2 23.2h1.6v1.6h-1.6zM413.2 23.2h1.6v1.6h-1.6zM397.2 25.2h1.6v1.6h-1.6zM477.27 25.27h1.46v1.73h-1.46zM477.27 27h1.46v1.73h-1.46zM395.2 27.2h1.6v1.6h-1.6zM361.2 29.2h1.6v1.6h-1.6zM393.2 29.2h1.6v1.6h-1.6zM341.3 31.3h1.7v1.7h-1.7zM341.3 33h1.7v1.7h-1.7zM343 31.3h1.7v1.7h-1.7zM343 33h1.7v1.7h-1.7zM447.2 31.2h1.6v1.6h-1.6zM489.3 31.3h1.4v1.7h-1.4zM489.3 33h1.4v2h-1.4zM489.3 35h1.4v1.7h-1.4zM427.2 35.2h1.6v1.6h-1.6zM431.2 35.2h1.6v1.6h-1.6zM475.2 35.2h1.6v1.6h-1.6zM397.2 37.2h1.6v1.6h-1.6zM425.2 39.2h1.6v1.6h-1.6zM489.2 39.2h1.6v1.6h-1.6zM411.2 41.2h1.6v1.6h-1.6zM487.2 41.2h1.6v1.6h-1.6zM325.27 43.27h1.73v1.46h-1.73zM327 43.27h1.73v1.46h-1.73zM465.2 43.2h1.6v1.6h-1.6zM365.27 45.27h1.46v1.73h-1.46zM365.27 47h1.46v1.73h-1.46zM387.2 45.2h1.6v1.6h-1.6zM461.2 45.2h1.6v1.6h-1.6zM341.2 47.2h1.6v1.6h-1.6zM377.2 47.2h1.6v1.6h-1.6zM393.2 49.2h1.6v1.6h-1.6zM405.2 49.2h1.6v1.6h-1.6zM395.2 51.2h1.6v1.6h-1.6zM397.2 53.2h1.6v1.6h-1.6zM393.2 55.2h1.6v1.6h-1.6zM395.2 57.2h1.6v1.6h-1.6zM331.27 61.27h1.46v1.73h-1.46zM331.27 63h1.46v1.73h-1.46zM371.2 61.2h1.6v1.6h-1.6zM493.2 61.2h1.6v1.6h-1.6zM457.2 67.2h1.6v1.6h-1.6zM377.27 69.27h1.46v1.73h-1.46zM377.27 71h1.46v1.73h-1.46zM399.3 69.3h1.4v1.7h-1.4zM399 71h2v1.7h-2zM397.3 71.3h1.7v1.4h-1.7zM401 71.3h1.7v1.4h-1.7zM445.3 69.3h1.7v1.7h-1.7zM445 71h1.7v1.7h-1.7zM447 69.3h1.7v1.4h-1.7zM443.3 71.3h1.7v1.4h-1.7zM453.3 69.3h1.7v1.7h-1.7zM453.3 71h1.4v2h-1.4zM455 69.3h1.7v1.4h-1.7zM453.3 73h1.4v1.7h-1.4zM373.2 71.2h1.6v1.6h-1.6zM383.2 71.2h1.6v1.6h-1.6zM437.2 71.2h1.6v1.6h-1.6zM465.3 73.3h1.7v1.7h-1.7zM465.3 75h1.7v1.7h-1.7zM467 73.3h1.7v1.7h-1.7zM467 75h1.7v1.7h-1.7zM353.2 75.2h1.6v1.6h-1.6zM455.2 75.2h1.6v1.6h-1.6zM475.2 75.2h1.6v1.6h-1.6zM423.2 77.2h1.6v1.6h-1.6zM339.2 81.2h1.6v1.6h-1.6zM413.2 81.2h1.6v1.6h-1.6zM337.2 83.2h1.6v1.6h-1.6zM341.2 83.2h1.6v1.6h-1.6zM339.2 85.2h1.6v1.6h-1.6zM341.2 87.2h1.6v1.6h-1.6zM355.27 87.27h1.73v1.46h-1.73zM357 87.27h1.73v1.46h-1.73zM343.2 89.2h1.6v1.6h-1.6zM351.2 89.2h1.6v1.6h-1.6zM341.2 91.2h1.6v1.6h-1.6zM359.2 93.2h1.6v1.6h-1.6zM315.3 95.3h1.4v1.7h-1.4zM315.3 97h1.7v1.7h-1.7zM317 97.3h1.7v1.4h-1.7zM353.2 95.2h1.6v1.6h-1.6zM361.2 95.2h1.6v1.6h-1.6zM359.2 97.2h1.6v1.6h-1.6zM327.2 99.2h1.6v1.6h-1.6zM307.2 101.2h1.6v1.6h-1.6zM307.27 105.27h1.46v1.73h-1.46zM307.27 107h1.46v1.73h-1.46zM323.27 105.27h1.46v1.73h-1.46zM323.27 107h1.46v1.73h-1.46zM327.2 107.2h1.6v1.6h-1.6zM303.3 109.3h1.7v1.7h-1.7zM303.3 111h1.7v1.7h-1.7zM305 109.3h1.7v1.7h-1.7zM305 111h1.7v1.7h-1.7zM313.2 111.2h1.6v1.6h-1.6zM315.27 113.27h1.46v1.73h-1.46zM315.27 115h1.46v1.73h-1.46zM333.27 113.27h1.46v1.73h-1.46zM333.27 115h1.46v1.73h-1.46zM303.2 115.2h1.6v1.6h-1.6z"/>
<path fill="#00ff00" d="M367.27 25.27h1.46v1.73h-1.46zM367.27 27h1.46v1.73h-1.46zM351.2 27.2h1.6v1.6h-1.6zM361.2 27.2h1.6v1.6h-1.6zM429.3 27.3h1.4v1.7h-1.4zM429 29h1.7v2h-1.7zM429.3 31h1.4v1.7h-1.4zM427.3 29.3h1.7v1.4h-1.7zM407.2 29.2h1.6v1.6h-1.6zM463.2 29.2h1.6v1.6h-1.6zM363.2 31.2h1.6v1.6h-1.6zM367.2 31.2h1.6v1.6h-1.6zM365.2 33.2h1.6v1.6h-1.6zM313.27 37.27h1.73v1.46h-1.73zM315 37.27h1.73v1.46h-1.73zM425.27 37.27h1.73v1.46h-1.73zM427 37.27h1.73v1.46h-1.73zM471.2 39.2h1.6v1.6h-1.6zM343.2 41.2h1.6v1.6h-1.6zM309.3 45.3h1.7v1.4h-1.7zM311 45.3h2v1.4h-2zM313 45.3h1.7v1.4h-1.7zM361.2 47.2h1.6v1.6h-1.6zM349.3 53.3h1.4v1.7h-1.4zM349.3 55h1.4v2h-1.4zM349.3 57h1.4v1.7h-1.4zM421.2 61.2h1.6v1.6h-1.6zM465.2 61.2h1.6v1.6h-1.6zM345.3 67.3h1.7v1.4h-1.7zM347 67.3h2v1.7h-2zM347.3 69h1.4v1.7h-1.4zM349 67.3h1.7v1.4h-1.7zM401.2 67.2h1.6v1.6h-1.6zM453.2 67.2h1.6v1.6h-1.6zM451.2 69.2h1.6v1.6h-1.6zM457.2 71.2h1.6v1.6h-1.6zM353.2 73.2h1.6v1.6h-1.6zM447.3 73.3h1.7v1.7h-1.7zM447.3 75h1.4v1.7h-1.4zM449 73.3h2v1.4h-2zM451 73.3h1.7v1.4h-1.7zM455.2 73.2h1.6v1.6h-1.6zM453.2 75.2h1.6v1.6h-1.6zM457.2 75.2h1.6v1.6h-1.6zM361.27 77.27h1.73v1.46h-1.73zM363 77.27h1.73v1.46h-1.73zM459.3 81.3h1.7v1.7h-1.7zM459.3 83h1.7v1.7h-1.7zM461 81.3h1.7v1.7h-1.7zM461 83h1.7v1.7h-1.7zM425.2 83.2h1.6v1.6h-1.6zM321.27 85.27h1.46v1.73h-1.46zM321.27 87h1.46v1.73h-1.46zM429.3 87.3h1.7v1.7h-1.7zM429.3 89h1.7v1.7h-1.7zM431 87.3h1.7v1.7h-1.7zM431 89h1.7v1.7h-1.7zM435.3 87.3h1.7v1.7h-1.7zM435.3 89h1.4v1.7h-1.4zM437 87.3h1.7v1.4h-1.7zM319.27 89.27h1.46v1.73h-1.46zM319.27 91h1.46v1.73h-1.46zM447.2 89.2h1.6v1.6h-1.6zM339.27 93.27h1.73v1.46h-1.73zM341 93.27h1.73v1.46h-1.73zM307.2 97.2h1.6v1.6h-1.6zM481.27 99.27h1.73v1.46h-1.73zM483 99.27h1.73v1.46h-1.73zM321.2 101.2h1.6v1.6h-1.6zM339.27 101.27h1.73v1.46h-1.73zM341 101.27h1.73v1.46h-1.73zM343.27 105.27h1.73v1.46h-1.73zM345 105.27h1.73v1.46h-1.73zM485.2 113.2h1.6v1.6h-1.6zM481.2 121.2h1.6v1.6h-1.6zM335.2 129.2h1.6v1.6h-1.6zM331.3 133.3h1.4v1.7h-1.4zM331.3 135h1.7v1.7h-1.7zM333 135.3h1.7v1.4h-1.7zM313.2 143.2h1.6v1.6h-1.6zM317.2 143.2h1.6v1.6h-1.6zM423.2 179.2h1.6v1.6h-1.6z"/>
<path fill="#32cd32" d="M363.2 23.2h1.6v1.6h-1.6zM393.2 23.2h1.6v1.6h-1.6zM405.2 23.2h1.6v1.6h-1.6zM415.3 23.3h1.4v1.7h-1.4zM415 25h1.7v1.7h-1.7zM413.3 25.3h1.7v1.4h-1.7zM441.3 23.3h1.4v1.7h-1.4zM441.3 25h1.7v1.7h-1.7zM443 25.3h1.7v1.4h-1.7zM361.2 25.2h1.6v1.6h-1.6zM391.3 25.3h1.4v1.7h-1.4zM391.3 27h1.7v2h-1.7zM391.3 29h1.4v1.7h-1.4zM393 27.3h1.7v1.4h-1.7zM395.2 25.2h1.6v1.6h-1.6zM399.2 25.2h1.6v1.6h-1.6zM359.2 27.2h1.6v1.6h-1.6zM383.2 27.2h1.6v1.6h-1.6zM409.27 27.27h1.46v1.73h-1.46zM409.27 29h1.46v1.73h-1.46zM413.2 29.2h1.6v1.6h-1.6zM465.27 29.27h1.73v1.46h-1.73zM467 29.27h1.73v1.46h-1.73zM357.2 31.2h1.6v1.6h-1.6zM381.27 31.27h1.46v1.73h-1.46zM381.27 33h1.46v1.73h-1.46zM425.27 31.27h1.46v1.73h-1.46zM425.27 33h1.46v1.73h-1.46zM445.3 31.3h1.4v1.7h-1.4zM445.3 33h1.4v2h-1.4zM445.3 35h1.4v1.7h-1.4zM363.27 33.27h1.46v1.73h-1.46zM363.27 35h1.46v1.73h-1.46zM367.2 33.2h1.6v1.6h-1.6zM417.2 33.2h1.6v1.6h-1.6zM431.2 33.2h1.6v1.6h-1.6zM435.2 33.2h1.6v1.6h-1.6zM441.2 33.2h1.6v1.6h-1.6zM387.2 35.2h1.6v1.6h-1.6zM429.2 35.2h1.6v1.6h-1.6zM433.2 35.2h1.6v1.6h-1.6zM449.27 35.27h1.46v1.73h-1.46zM449.27 37h1.46v1.73h-1.46zM481.3 35.3h1.4v1.7h-1.4zM481.3 37h1.4v2h-1.4zM481.3 39h1.4v1.7h-1.4zM365.27 37.27h1.46v1.73h-1.46zM365.27 39h1.46v1.73h-1.46zM399.2 37.2h1.6v1.6h-1.6zM409.2 37.2h1.6v1.6h-1.6zM489.2 37.2h1.6v1.6h-1.6zM397.2 39.2h1.6v1.6h-1.6zM423.2 39.2h1.6v1.6h-1.6zM427.2 39.2h1.6v1.6h-1.6zM441.3 39.3h1.4v1.7h-1.4zM441.3 41h1.7v1.7h-1.7zM443 41.3h1.7v1.4h-1.7zM447.2 39.2h1.6v1.6h-1.6zM487.2 39.2h1.6v1.6h-1.6zM355.27 41.27h1.46v1.73h-1.46zM355.27 43h1.46v1.73h-1.46zM429.2 41.2h1.6v1.6h-1.6zM461.27 41.27h1.46v1.73h-1.46zM461.27 43h1.46v1.73h-1.46zM485.2 41.2h1.6v1.6h-1.6zM489.3 41.3h1.4v1.7h-1.4zM489 43h1.7v1.7h-1.7zM487.3 43.3h1.7v1.4h-1.7zM369.27 43.27h1.46v1.73h-1.46zM369.27 45h1.46v1.73h-1.46zM395.2 43.2h1.6v1.6h-1.6zM425.2 43.2h1.6v1.6h-1.6zM435.3 43.3h1.4v1.7h-1.4zM435.3 45h1.7v1.7h-1.7zM437 45.3h2v1.4h-2zM439 45.3h1.7v1.4h-1.7zM447.2 43.2h1.6v1.6h-1.6zM467.2 43.2h1.6v1.6h-1.6zM427.2 45.2h1.6v1.6h-1.6zM449.2 45.2h1.6v1.6h-1.6zM459.2 45.2h1.6v1.6h-1.6zM463.2 45.2h1.6v1.6h-1.6zM483.27 45.27h1.46v1.73h-1.46zM483.27 47h1.46v1.73h-1.46zM357.3 47.3h1.7v1.7h-1.7zM357.3 49h1.4v1.7h-1.4zM359 47.3h1.7v1.4h-1.7zM375.2 47.2h1.6v1.6h-1.6zM429.3 47.3h1.7v1.4h-1.7zM431 47.3h1.7v1.7h-1.7zM431.3 49h1.4v1.7h-1.4zM441.2 47.2h1.6v1.6h-1.6zM403.2 49.2h1.6v1.6h-1.6zM447.2 49.2h1.6v1.6h-1.6zM493.2 49.2h1.6v1.6h-1.6zM435.2 51.2h1.6v1.6h-1.6zM439.3 51.3h1.4v1.7h-1.4zM439.3 53h1.7v1.7h-1.7zM441 53.3h1.7v1.4h-1.7zM487.27 53.27h1.46v1.73h-1.46zM487.27 55h1.46v1.73h-1.46zM391.2 55.2h1.6v1.6h-1.6zM479.2 55.2h1.6v1.6h-1.6zM483.2 55.2h1.6v1.6h-1.6zM493.2 55.2h1.6v1.6h-1.6zM363.2 57.2h1.6v1.6h-1.6zM393.2 57.2h1.6v1.6h-1.6zM439.2 57.2h1.6v1.6h-1.6zM451.2 57.2h1.6v1.6h-1.6zM465.2 57.2h1.6v1.6h-1.6zM481.3 57.3h1.4v1.7h-1.4zM481.3 59h1.7v1.7h-1.7zM483 59.3h1.7v1.4h-1.7zM441.2 59.2h1.6v1.6h-1.6zM487.2 59.2h1.6v1.6h-1.6zM369.2 61.2h1.6v1.6h-1.6zM443.2 61.2h1.6v1.6h-1.6zM485.27 61.27h1.46v1.73h-1.46zM485.27 63h1.46v1.73h-1.46zM489.27 61.27h1.73v1.46h-1.73zM491 61.27h1.73v1.46h-1.73zM385.2 63.2h1.6v1.6h-1.6zM393.2 63.2h1.6v1.6h-1.6zM445.2 63.2h1.6v1.6h-1.6zM453.3 65.3h1.7v1.4h-1.7zM455 65.3h1.7v1.7h-1.7zM455.3 67h1.4v1.7h-1.4zM469.2 65.2h1.6v1.6h-1.6zM489.27 65.27h1.46v1.73h-1.46zM489.27 67h1.46v1.73h-1.46zM493.2 65.2h1.6v1.6h-1.6zM451.2 67.2h1.6v1.6h-1.6zM465.27 67.27h1.46v1.73h-1.46zM465.27 69h1.46v1.73h-1.46zM485.2 67.2h1.6v1.6h-1.6zM449.3 69.3h1.4v1.7h-1.4zM449.3 71h1.7v1.7h-1.7zM451 71.3h1.7v1.4h-1.7zM457.2 69.2h1.6v1.6h-1.6zM491.2 69.2h1.6v1.6h-1.6zM455.2 71.2h1.6v1.6h-1.6zM459.2 71.2h1.6v1.6h-1.6zM467.2 71.2h1.6v1.6h-1.6zM395.3 73.3h1.7v1.4h-1.7zM397 73.3h2v1.4h-2zM399 73.3h1.7v1.4h-1.7zM427.3 73.3h1.7v1.4h-1.7zM429 73.3h1.7v1.7h-1.7zM429.3 75h1.7v1.7h-1.7zM431 75.3h1.7v1.4h-1.7zM475.2 73.2h1.6v1.6h-1.6zM483.2 73.2h1.6v1.6h-1.6zM481.2 75.2h1.6v1.6h-1.6zM453.2 77.2h1.6v1.6h-1.6zM475.3 77.3h1.4v1.7h-1.4zM475 79h1.7v1.7h-1.7zM473.3 79.3h1.7v1.4h-1.7zM337.2 81.2h1.6v1.6h-1.6zM341.2 81.2h1.6v1.6h-1.6zM477.2 81.2h1.6v1.6h-1.6zM489.2 81.2h1.6v1.6h-1.6zM339.2 83.2h1.6v1.6h-1.6zM479.2 83.2h1.6v1.6h-1.6zM491.3 83.3h1.4v1.7h-1.4zM491 85h2v1.7h-2zM489.3 85.3h1.7v1.4h-1.7zM493 85.3h1.7v1.4h-1.7zM421.2 87.2h1.6v1.6h-1.6zM459.3 89.3h1.4v1.7h-1.4zM459.3 91h1.4v2h-1.4zM459.3 93h1.4v1.7h-1.4zM343.27 91.27h1.46v1.73h-1.46zM343.27 93h1.46v1.73h-1.46zM455.2 95.2h1.6v1.6h-1.6zM485.27 97.27h1.73v1.46h-1.73zM487 97.27h1.73v1.46h-1.73zM313.2 99.2h1.6v1.6h-1.6zM309.2 101.2h1.6v1.6h-1.6zM313.27 103.27h1.73v1.46h-1.73zM315 103.27h1.73v1.46h-1.73zM339.27 119.27h1.46v1.73h-1.46zM339.27 121h1.46v1.73h-1.46z"/>
<path fill="#ffc0cb" d="M441.27 69.27h1.73v1.46h-1.73zM443 69.27h1.73v1.46h-1.73zM431.27 73.27h1.73v1.46h-1.73zM433 73.27h1.73v1.46h-1.73zM427.2 75.2h1.6v1.6h-1.6zM439.2 75.2h1.6v1.6h-1.6zM385.2 81.2h1.6v1.6h-1.6zM335.2 113.2h1.6v1.6h-1.6zM333.2 117.2h1.6v1.6h-1.6zM481.2 123.2h1.6v1.6h-1.6zM417.2 125.2h1.6v1.6h-1.6zM431.27 129.27h1.73v1.46h-1.73zM433 129.27h1.73v1.46h-1.73zM461.2 129.2h1.6v1.6h-1.6zM413.2 131.2h1.6v1.6h-1.6zM457.2 131.2h1.6v1.6h-1.6zM341.2 133.2h1.6v1.6h-1.6zM423.2 133.2h1.6v1.6h-1.6zM323.2 137.2h1.6v1.6h-1.6zM317.27 139.27h1.46v1.73h-1.46zM317.27 141h1.46v1.73h-1.46zM403.2 139.2h1.6v1.6h-1.6zM411.2 141.2h1.6v1.6h-1.6zM319.2 143.2h1.6v1.6h-1.6zM309.2 147.2h1.6v1.6h-1.6zM419.3 147.3h1.7v1.7h-1.7zM419.3 149h1.7v1.7h-1.7zM421 147.3h1.7v1.7h-1.7zM421 149h1.7v1.7h-1.7zM419.27 155.27h1.73v1.46h-1.73zM421 155.27h1.73v1.46h-1.73zM383.2 161.2h1.6v1.6h-1.6zM309.2 163.2h1.6v1.6h-1.6zM423.2 165.2h1.6v1.6h-1.6zM423.2 171.2h1.6v1.6h-1.6zM427.27 175.27h1.73v1.46h-1.73zM429 175.27h1.73v1.46h-1.73zM471.27 183.27h1.46v1.73h-1.46zM471.27 185h1.46v1.73h-1.46z"/>
</g>
</g></g>
<g clip-path="url(#frameb)">
<path d="M327.65 17.5L321.32 192.2M365.04 17.5L360.54 192.2M402.63 17.5L399.56 192.2M440.62 17.5L438.57 192.2M477.59 17.5L478.21 192.2M294.50 33.20L304.50 33.75L314.50 34.27L324.50 34.76L334.50 35.22L344.50 35.64L354.50 36.03L364.50 36.39L374.50 36.72L384.50 37.02L394.50 37.28L404.50 37.51L414.50 37.71L424.50 37.88L434.50 38.02L444.50 38.12L454.50 38.19L464.50 38.23L474.50 38.24L484.50 38.22L494.50 38.16M294.50 58.63L304.50 59.18L314.50 59.70L324.50 60.19L334.50 60.65L344.50 61.07L354.50 61.46L364.50 61.82L374.50 62.15L384.50 62.45L394.50 62.71L404.50 62.94L414.50 63.14L424.50 63.31L434.50 63.45L444.50 63.55L454.50 63.62L464.50 63.66L474.50 63.67L484.50 63.65L494.50 63.59M294.50 84.06L304.50 84.61L314.50 85.13L324.50 85.62L334.50 86.08L344.50 86.50L354.50 86.89L364.50 87.25L374.50 87.58L384.50 87.88L394.50 88.14L404.50 88.37L414.50 88.57L424.50 88.74L434.50 88.88L444.50 88.98L454.50 89.05L464.50 89.09L474.50 89.10L484.50 89.08L494.50 89.02M294.50 109.49L304.50 110.04L314.50 110.56L324.50 111.05L334.50 111.51L344.50 111.93L354.50 112.32L364.50 112.68L374.50 113.01L384.50 113.31L394.50 113.57L404.50 113.80L414.50 114.00L424.50 114.17L434.50 114.31L444.50 114.41L454.50 114.48L464.50 114.52L474.50 114.53L484.50 114.51L494.50 114.45M294.50 134.92L304.50 135.47L314.50 135.99L324.50 136.48L334.50 136.94L344.50 137.36L354.50 137.75L364.50 138.11L374.50 138.44L384.50 138.74L394.50 139.00L404.50 139.23L414.50 139.43L424.50 139.60L434.50 139.74L444.50 139.84L454.50 139.91L464.50 139.95L474.50 139.96L484.50 139.94L494.50 139.88M294.50 160.35L304.50 160.90L314.50 161.42L324.50 161.91L334.50 162.37L344.50 162.79L354.50 163.18L364.50 163.54L374.50 163.87L384.50 164.17L394.50 164.43L404.50 164.66L414.50 164.86L424.50 165.03L434.50 165.17L444.50 165.27L454.50 165.34L464.50 165.38L474.50 165.39L484.50 165.37L494.50 165.31M294.50 185.78L304.50 186.33L314.50 186.85L324.50 187.34L334.50 187.80L344.50 188.22L354.50 188.61L364.50 188.97L374.50 189.30L384.50 189.60L394.50 189.86L404.50 190.09L414.50 190.29L424.50 190.46L434.50 190.60L444.50 190.70L454.50 190.77L464.50 190.81L474.50 190.82L484.50 190.80L494.50 190.74" fill="none" stroke="#808080" stroke-opacity="0.62" stroke-width="0.8"/>
<path d="M496.4 97.4L494.9 99.4L493.4 102.4L491.9 105.4L489.4 108.4L487.4 110.4L488.9 111.9L489.4 114.4L489.9 117.4L488.9 119.4L486.4 120.9L484.4 122.9L484.4 125.4L482.4 126.9L480.4 128.9L478.4 130.9L476.4 132.9L475.9 130.9L473.9 129.4L471.9 130.9L468.9 130.4L465.4 131.4L461.4 131.9L458.4 133.9L455.4 135.9L452.4 137.2L450.4 136.4L448.4 134.4L446.9 131.4L444.4 128.9L440.9 128.2L436.9 128.9L433.9 130.4L431.4 132.9L428.9 133.4L429.4 135.4L431.4 137.9L431.9 140.4L429.4 140.4L427.9 141.9L426.4 144.9L424.9 148.4L423.4 151.4L422.9 155.4L423.9 159.4L425.4 163.4L426.9 167.4L428.9 170.9L431.4 173.9L434.4 176.9L439.4 179.9L443.4 181.9L447.4 183.4L452.4 183.9L456.4 184.9L460.4 186.4L462.4 186.9L464.9 183.9L468.4 182.9L472.4 182.9L475.4 184.4L477.4 187.4L478.9 190.9L479.4 192.4M458.9 137.4L458.4 140.4L459.9 143.4L461.9 143.4L464.4 140.4L465.9 136.4L464.9 135.9L462.9 138.9L460.9 137.9z" fill="none" stroke="#000" stroke-width="0.7" stroke-linejoin="round"/>
</g>
<path d="M397.2 97.95l5.4 5.4M397.2 103.35l5.4 -5.4" stroke="#000" stroke-width="1.25" fill="none"/>
<rect x="294.5" y="17.5" width="200" height="174.7" fill="none" stroke="#000" stroke-width="0.62"/>
<g class="ti">
<text x="27.3" y="13.4">(a)</text>
<text x="127.2" y="13.4" text-anchor="middle">SYNMAP</text>
<text x="294.3" y="13.4">(b)</text>
<text x="394.5" y="13.4" text-anchor="middle">Copernicus DLC</text>
</g>
<g class="lg">
<rect x="26.5" y="207.4" width="453.2" height="49.2" rx="2" ry="2" fill="#fff" stroke="#cfcfcf" stroke-width="0.7"/>
<rect x="30.6" y="212.60" width="20.4" height="6.8" fill="#ffa500"/>
<text x="59.4" y="219.80">Cropland</text>
<rect x="30.6" y="227.95" width="20.4" height="6.8" fill="#556b2f"/>
<text x="59.4" y="235.15">Deciduous Forest</text>
<rect x="30.6" y="243.30" width="20.4" height="6.8" fill="#228b22"/>
<text x="59.4" y="250.50">Evergreen Forest</text>
<rect x="165.3" y="212.60" width="20.4" height="6.8" fill="#00ff00"/>
<text x="194.1" y="219.80">Grassland</text>
<rect x="165.3" y="227.95" width="20.4" height="6.8" fill="#32cd32"/>
<text x="194.1" y="235.15">Mixed Forest</text>
<rect x="276.9" y="212.60" width="20.4" height="6.8" fill="#a52a2a"/>
<text x="305.7" y="219.80">No vegetation</text>
<rect x="276.9" y="227.95" width="20.4" height="6.8" fill="#ffff00"/>
<text x="305.7" y="235.15">Savanna</text>
<rect x="395.9" y="212.60" width="20.4" height="6.8" fill="#ffc0cb"/>
<text x="424.7" y="219.80">Shrubland</text>
<rect x="395.9" y="227.95" width="20.4" height="6.8" fill="#00ffff"/>
<text x="424.7" y="235.15">Wetland</text>
</g>
</svg>
</body></html>
